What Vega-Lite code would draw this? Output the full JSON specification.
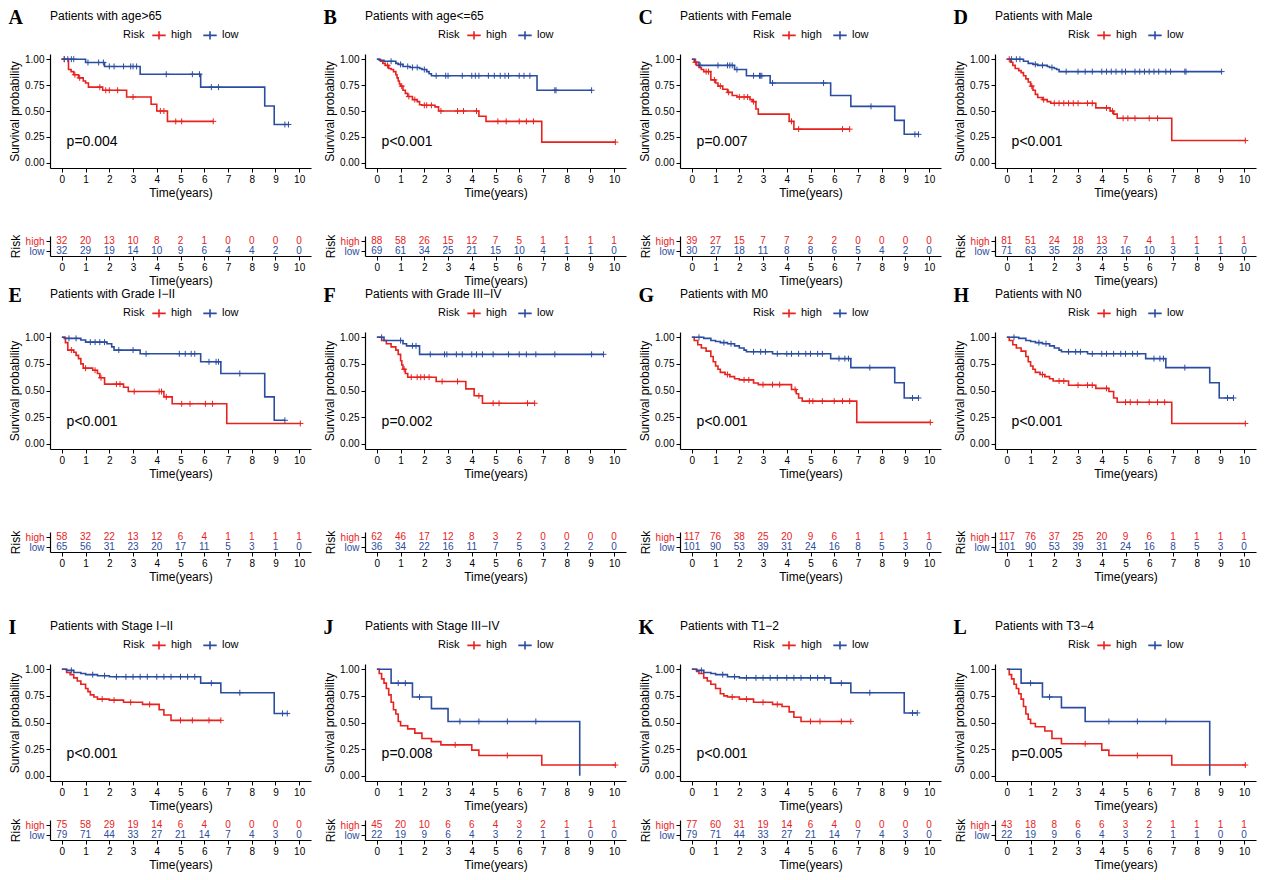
{
"$schema":"https://vega.github.io/schema/vega-lite/v6.json",
"background":"white",
"padding":{"left":8,"top":8,"right":5,"bottom":3},
"config":{"view":{"stroke":null},"font":"Liberation Sans",
"axis":{"grid":false,"domainColor":"black","tickColor":"black","labelColor":"black","titleColor":"black","labelFontSize":10,"titleFontSize":12,"titleFontWeight":"normal","tickSize":4,"domainWidth":1.2,"tickWidth":1,"labelPadding":2,"titlePadding":3,"labelOverlap":false,"labelFlush":false},
"legend":{"orient":"top","direction":"horizontal","titleOrient":"left","labelFontSize":11,"titleFontSize":11,"titleFontWeight":"normal","titlePadding":6,"offset":11,"columnPadding":8,"symbolStrokeWidth":1.6,"layout":{"top":{"anchor":"middle"}}},
"title":{"offset":4,"color":"black"}},
"datasets":{
"pv":[{"p":"A","label":"p=0.004"},{"p":"B","label":"p<0.001"},{"p":"C","label":"p=0.007"},{"p":"D","label":"p<0.001"},{"p":"E","label":"p<0.001"},{"p":"F","label":"p=0.002"},{"p":"G","label":"p<0.001"},{"p":"H","label":"p<0.001"},{"p":"I","label":"p<0.001"},{"p":"J","label":"p=0.008"},{"p":"K","label":"p<0.001"},{"p":"L","label":"p=0.005"}],
"risk":[
{"p":"A","g":"high","t":0,"n":32},{"p":"A","g":"high","t":1,"n":20},{"p":"A","g":"high","t":2,"n":13},{"p":"A","g":"high","t":3,"n":10},{"p":"A","g":"high","t":4,"n":8},{"p":"A","g":"high","t":5,"n":2},{"p":"A","g":"high","t":6,"n":1},{"p":"A","g":"high","t":7,"n":0},{"p":"A","g":"high","t":8,"n":0},{"p":"A","g":"high","t":9,"n":0},{"p":"A","g":"high","t":10,"n":0},
{"p":"A","g":"low","t":0,"n":32},{"p":"A","g":"low","t":1,"n":29},{"p":"A","g":"low","t":2,"n":19},{"p":"A","g":"low","t":3,"n":14},{"p":"A","g":"low","t":4,"n":10},{"p":"A","g":"low","t":5,"n":9},{"p":"A","g":"low","t":6,"n":6},{"p":"A","g":"low","t":7,"n":4},{"p":"A","g":"low","t":8,"n":4},{"p":"A","g":"low","t":9,"n":2},{"p":"A","g":"low","t":10,"n":0},
{"p":"B","g":"high","t":0,"n":88},{"p":"B","g":"high","t":1,"n":58},{"p":"B","g":"high","t":2,"n":26},{"p":"B","g":"high","t":3,"n":15},{"p":"B","g":"high","t":4,"n":12},{"p":"B","g":"high","t":5,"n":7},{"p":"B","g":"high","t":6,"n":5},{"p":"B","g":"high","t":7,"n":1},{"p":"B","g":"high","t":8,"n":1},{"p":"B","g":"high","t":9,"n":1},{"p":"B","g":"high","t":10,"n":1},
{"p":"B","g":"low","t":0,"n":69},{"p":"B","g":"low","t":1,"n":61},{"p":"B","g":"low","t":2,"n":34},{"p":"B","g":"low","t":3,"n":25},{"p":"B","g":"low","t":4,"n":21},{"p":"B","g":"low","t":5,"n":15},{"p":"B","g":"low","t":6,"n":10},{"p":"B","g":"low","t":7,"n":4},{"p":"B","g":"low","t":8,"n":1},{"p":"B","g":"low","t":9,"n":1},{"p":"B","g":"low","t":10,"n":0},
{"p":"C","g":"high","t":0,"n":39},{"p":"C","g":"high","t":1,"n":27},{"p":"C","g":"high","t":2,"n":15},{"p":"C","g":"high","t":3,"n":7},{"p":"C","g":"high","t":4,"n":7},{"p":"C","g":"high","t":5,"n":2},{"p":"C","g":"high","t":6,"n":2},{"p":"C","g":"high","t":7,"n":0},{"p":"C","g":"high","t":8,"n":0},{"p":"C","g":"high","t":9,"n":0},{"p":"C","g":"high","t":10,"n":0},
{"p":"C","g":"low","t":0,"n":30},{"p":"C","g":"low","t":1,"n":27},{"p":"C","g":"low","t":2,"n":18},{"p":"C","g":"low","t":3,"n":11},{"p":"C","g":"low","t":4,"n":8},{"p":"C","g":"low","t":5,"n":8},{"p":"C","g":"low","t":6,"n":6},{"p":"C","g":"low","t":7,"n":5},{"p":"C","g":"low","t":8,"n":4},{"p":"C","g":"low","t":9,"n":2},{"p":"C","g":"low","t":10,"n":0},
{"p":"D","g":"high","t":0,"n":81},{"p":"D","g":"high","t":1,"n":51},{"p":"D","g":"high","t":2,"n":24},{"p":"D","g":"high","t":3,"n":18},{"p":"D","g":"high","t":4,"n":13},{"p":"D","g":"high","t":5,"n":7},{"p":"D","g":"high","t":6,"n":4},{"p":"D","g":"high","t":7,"n":1},{"p":"D","g":"high","t":8,"n":1},{"p":"D","g":"high","t":9,"n":1},{"p":"D","g":"high","t":10,"n":1},
{"p":"D","g":"low","t":0,"n":71},{"p":"D","g":"low","t":1,"n":63},{"p":"D","g":"low","t":2,"n":35},{"p":"D","g":"low","t":3,"n":28},{"p":"D","g":"low","t":4,"n":23},{"p":"D","g":"low","t":5,"n":16},{"p":"D","g":"low","t":6,"n":10},{"p":"D","g":"low","t":7,"n":3},{"p":"D","g":"low","t":8,"n":1},{"p":"D","g":"low","t":9,"n":1},{"p":"D","g":"low","t":10,"n":0},
{"p":"E","g":"high","t":0,"n":58},{"p":"E","g":"high","t":1,"n":32},{"p":"E","g":"high","t":2,"n":22},{"p":"E","g":"high","t":3,"n":13},{"p":"E","g":"high","t":4,"n":12},{"p":"E","g":"high","t":5,"n":6},{"p":"E","g":"high","t":6,"n":4},{"p":"E","g":"high","t":7,"n":1},{"p":"E","g":"high","t":8,"n":1},{"p":"E","g":"high","t":9,"n":1},{"p":"E","g":"high","t":10,"n":1},
{"p":"E","g":"low","t":0,"n":65},{"p":"E","g":"low","t":1,"n":56},{"p":"E","g":"low","t":2,"n":31},{"p":"E","g":"low","t":3,"n":23},{"p":"E","g":"low","t":4,"n":20},{"p":"E","g":"low","t":5,"n":17},{"p":"E","g":"low","t":6,"n":11},{"p":"E","g":"low","t":7,"n":5},{"p":"E","g":"low","t":8,"n":3},{"p":"E","g":"low","t":9,"n":1},{"p":"E","g":"low","t":10,"n":0},
{"p":"F","g":"high","t":0,"n":62},{"p":"F","g":"high","t":1,"n":46},{"p":"F","g":"high","t":2,"n":17},{"p":"F","g":"high","t":3,"n":12},{"p":"F","g":"high","t":4,"n":8},{"p":"F","g":"high","t":5,"n":3},{"p":"F","g":"high","t":6,"n":2},{"p":"F","g":"high","t":7,"n":0},{"p":"F","g":"high","t":8,"n":0},{"p":"F","g":"high","t":9,"n":0},{"p":"F","g":"high","t":10,"n":0},
{"p":"F","g":"low","t":0,"n":36},{"p":"F","g":"low","t":1,"n":34},{"p":"F","g":"low","t":2,"n":22},{"p":"F","g":"low","t":3,"n":16},{"p":"F","g":"low","t":4,"n":11},{"p":"F","g":"low","t":5,"n":7},{"p":"F","g":"low","t":6,"n":5},{"p":"F","g":"low","t":7,"n":3},{"p":"F","g":"low","t":8,"n":2},{"p":"F","g":"low","t":9,"n":2},{"p":"F","g":"low","t":10,"n":0},
{"p":"G","g":"high","t":0,"n":117},{"p":"G","g":"high","t":1,"n":76},{"p":"G","g":"high","t":2,"n":38},{"p":"G","g":"high","t":3,"n":25},{"p":"G","g":"high","t":4,"n":20},{"p":"G","g":"high","t":5,"n":9},{"p":"G","g":"high","t":6,"n":6},{"p":"G","g":"high","t":7,"n":1},{"p":"G","g":"high","t":8,"n":1},{"p":"G","g":"high","t":9,"n":1},{"p":"G","g":"high","t":10,"n":1},
{"p":"G","g":"low","t":0,"n":101},{"p":"G","g":"low","t":1,"n":90},{"p":"G","g":"low","t":2,"n":53},{"p":"G","g":"low","t":3,"n":39},{"p":"G","g":"low","t":4,"n":31},{"p":"G","g":"low","t":5,"n":24},{"p":"G","g":"low","t":6,"n":16},{"p":"G","g":"low","t":7,"n":8},{"p":"G","g":"low","t":8,"n":5},{"p":"G","g":"low","t":9,"n":3},{"p":"G","g":"low","t":10,"n":0},
{"p":"H","g":"high","t":0,"n":117},{"p":"H","g":"high","t":1,"n":76},{"p":"H","g":"high","t":2,"n":37},{"p":"H","g":"high","t":3,"n":25},{"p":"H","g":"high","t":4,"n":20},{"p":"H","g":"high","t":5,"n":9},{"p":"H","g":"high","t":6,"n":6},{"p":"H","g":"high","t":7,"n":1},{"p":"H","g":"high","t":8,"n":1},{"p":"H","g":"high","t":9,"n":1},{"p":"H","g":"high","t":10,"n":1},
{"p":"H","g":"low","t":0,"n":101},{"p":"H","g":"low","t":1,"n":90},{"p":"H","g":"low","t":2,"n":53},{"p":"H","g":"low","t":3,"n":39},{"p":"H","g":"low","t":4,"n":31},{"p":"H","g":"low","t":5,"n":24},{"p":"H","g":"low","t":6,"n":16},{"p":"H","g":"low","t":7,"n":8},{"p":"H","g":"low","t":8,"n":5},{"p":"H","g":"low","t":9,"n":3},{"p":"H","g":"low","t":10,"n":0},
{"p":"I","g":"high","t":0,"n":75},{"p":"I","g":"high","t":1,"n":58},{"p":"I","g":"high","t":2,"n":29},{"p":"I","g":"high","t":3,"n":19},{"p":"I","g":"high","t":4,"n":14},{"p":"I","g":"high","t":5,"n":6},{"p":"I","g":"high","t":6,"n":4},{"p":"I","g":"high","t":7,"n":0},{"p":"I","g":"high","t":8,"n":0},{"p":"I","g":"high","t":9,"n":0},{"p":"I","g":"high","t":10,"n":0},
{"p":"I","g":"low","t":0,"n":79},{"p":"I","g":"low","t":1,"n":71},{"p":"I","g":"low","t":2,"n":44},{"p":"I","g":"low","t":3,"n":33},{"p":"I","g":"low","t":4,"n":27},{"p":"I","g":"low","t":5,"n":21},{"p":"I","g":"low","t":6,"n":14},{"p":"I","g":"low","t":7,"n":7},{"p":"I","g":"low","t":8,"n":4},{"p":"I","g":"low","t":9,"n":3},{"p":"I","g":"low","t":10,"n":0},
{"p":"J","g":"high","t":0,"n":45},{"p":"J","g":"high","t":1,"n":20},{"p":"J","g":"high","t":2,"n":10},{"p":"J","g":"high","t":3,"n":6},{"p":"J","g":"high","t":4,"n":6},{"p":"J","g":"high","t":5,"n":4},{"p":"J","g":"high","t":6,"n":3},{"p":"J","g":"high","t":7,"n":2},{"p":"J","g":"high","t":8,"n":1},{"p":"J","g":"high","t":9,"n":1},{"p":"J","g":"high","t":10,"n":1},
{"p":"J","g":"low","t":0,"n":22},{"p":"J","g":"low","t":1,"n":19},{"p":"J","g":"low","t":2,"n":9},{"p":"J","g":"low","t":3,"n":6},{"p":"J","g":"low","t":4,"n":4},{"p":"J","g":"low","t":5,"n":3},{"p":"J","g":"low","t":6,"n":2},{"p":"J","g":"low","t":7,"n":1},{"p":"J","g":"low","t":8,"n":1},{"p":"J","g":"low","t":9,"n":0},{"p":"J","g":"low","t":10,"n":0},
{"p":"K","g":"high","t":0,"n":77},{"p":"K","g":"high","t":1,"n":60},{"p":"K","g":"high","t":2,"n":31},{"p":"K","g":"high","t":3,"n":19},{"p":"K","g":"high","t":4,"n":14},{"p":"K","g":"high","t":5,"n":6},{"p":"K","g":"high","t":6,"n":4},{"p":"K","g":"high","t":7,"n":0},{"p":"K","g":"high","t":8,"n":0},{"p":"K","g":"high","t":9,"n":0},{"p":"K","g":"high","t":10,"n":0},
{"p":"K","g":"low","t":0,"n":79},{"p":"K","g":"low","t":1,"n":71},{"p":"K","g":"low","t":2,"n":44},{"p":"K","g":"low","t":3,"n":33},{"p":"K","g":"low","t":4,"n":27},{"p":"K","g":"low","t":5,"n":21},{"p":"K","g":"low","t":6,"n":14},{"p":"K","g":"low","t":7,"n":7},{"p":"K","g":"low","t":8,"n":4},{"p":"K","g":"low","t":9,"n":3},{"p":"K","g":"low","t":10,"n":0},
{"p":"L","g":"high","t":0,"n":43},{"p":"L","g":"high","t":1,"n":18},{"p":"L","g":"high","t":2,"n":8},{"p":"L","g":"high","t":3,"n":6},{"p":"L","g":"high","t":4,"n":6},{"p":"L","g":"high","t":5,"n":3},{"p":"L","g":"high","t":6,"n":2},{"p":"L","g":"high","t":7,"n":1},{"p":"L","g":"high","t":8,"n":1},{"p":"L","g":"high","t":9,"n":1},{"p":"L","g":"high","t":10,"n":1},
{"p":"L","g":"low","t":0,"n":22},{"p":"L","g":"low","t":1,"n":19},{"p":"L","g":"low","t":2,"n":9},{"p":"L","g":"low","t":3,"n":6},{"p":"L","g":"low","t":4,"n":4},{"p":"L","g":"low","t":5,"n":3},{"p":"L","g":"low","t":6,"n":2},{"p":"L","g":"low","t":7,"n":1},{"p":"L","g":"low","t":8,"n":1},{"p":"L","g":"low","t":9,"n":0},{"p":"L","g":"low","t":10,"n":0}
],
"km":[
{"p":"A","g":"high","t":0,"s":1,"c":0},{"p":"A","g":"high","t":0.1,"s":1,"c":1},{"p":"A","g":"high","t":0.28,"s":0.9,"c":0},{"p":"A","g":"high","t":0.39,"s":0.88,"c":0},{"p":"A","g":"high","t":0.5,"s":0.85,"c":0},{"p":"A","g":"high","t":0.55,"s":0.85,"c":1},{"p":"A","g":"high","t":0.7,"s":0.82,"c":0},{"p":"A","g":"high","t":0.75,"s":0.82,"c":1},{"p":"A","g":"high","t":0.9,"s":0.79,"c":0},{"p":"A","g":"high","t":1.0,"s":0.77,"c":0},{"p":"A","g":"high","t":1.12,"s":0.73,"c":0},{"p":"A","g":"high","t":1.6,"s":0.73,"c":1},{"p":"A","g":"high","t":1.72,"s":0.7,"c":0},{"p":"A","g":"high","t":1.85,"s":0.7,"c":1},{"p":"A","g":"high","t":2.0,"s":0.7,"c":1},{"p":"A","g":"high","t":2.35,"s":0.7,"c":1},{"p":"A","g":"high","t":2.73,"s":0.635,"c":0},{"p":"A","g":"high","t":3.0,"s":0.635,"c":1},{"p":"A","g":"high","t":3.76,"s":0.565,"c":0},{"p":"A","g":"high","t":4.0,"s":0.5,"c":0},{"p":"A","g":"high","t":4.15,"s":0.5,"c":1},{"p":"A","g":"high","t":4.3,"s":0.5,"c":1},{"p":"A","g":"high","t":4.45,"s":0.4,"c":0},{"p":"A","g":"high","t":4.8,"s":0.4,"c":1},{"p":"A","g":"high","t":5.05,"s":0.4,"c":1},{"p":"A","g":"high","t":6.38,"s":0.4,"c":1},
{"p":"A","g":"low","t":0,"s":1,"c":0},{"p":"A","g":"low","t":0.1,"s":1,"c":1},{"p":"A","g":"low","t":0.25,"s":1,"c":1},{"p":"A","g":"low","t":0.4,"s":1,"c":1},{"p":"A","g":"low","t":0.5,"s":1,"c":1},{"p":"A","g":"low","t":1.0,"s":0.968,"c":0},{"p":"A","g":"low","t":1.1,"s":0.968,"c":1},{"p":"A","g":"low","t":1.55,"s":0.968,"c":1},{"p":"A","g":"low","t":1.75,"s":0.968,"c":1},{"p":"A","g":"low","t":1.8,"s":0.93,"c":0},{"p":"A","g":"low","t":2.0,"s":0.93,"c":1},{"p":"A","g":"low","t":2.2,"s":0.93,"c":1},{"p":"A","g":"low","t":2.6,"s":0.93,"c":1},{"p":"A","g":"low","t":2.9,"s":0.93,"c":1},{"p":"A","g":"low","t":3.0,"s":0.93,"c":1},{"p":"A","g":"low","t":3.15,"s":0.93,"c":1},{"p":"A","g":"low","t":3.3,"s":0.855,"c":0},{"p":"A","g":"low","t":4.4,"s":0.855,"c":1},{"p":"A","g":"low","t":5.5,"s":0.855,"c":1},{"p":"A","g":"low","t":5.8,"s":0.855,"c":1},{"p":"A","g":"low","t":5.85,"s":0.73,"c":0},{"p":"A","g":"low","t":6.3,"s":0.73,"c":1},{"p":"A","g":"low","t":6.6,"s":0.73,"c":1},{"p":"A","g":"low","t":8.55,"s":0.548,"c":0},{"p":"A","g":"low","t":8.95,"s":0.37,"c":0},{"p":"A","g":"low","t":9.4,"s":0.37,"c":1},{"p":"A","g":"low","t":9.55,"s":0.37,"c":1},
{"p":"B","g":"high","t":0,"s":1,"c":0},{"p":"B","g":"high","t":0.15,"s":0.98,"c":0},{"p":"B","g":"high","t":0.25,"s":0.96,"c":0},{"p":"B","g":"high","t":0.35,"s":0.94,"c":0},{"p":"B","g":"high","t":0.45,"s":0.94,"c":1},{"p":"B","g":"high","t":0.5,"s":0.91,"c":0},{"p":"B","g":"high","t":0.6,"s":0.9,"c":0},{"p":"B","g":"high","t":0.7,"s":0.88,"c":0},{"p":"B","g":"high","t":0.8,"s":0.85,"c":0},{"p":"B","g":"high","t":0.85,"s":0.82,"c":0},{"p":"B","g":"high","t":0.9,"s":0.79,"c":0},{"p":"B","g":"high","t":0.95,"s":0.76,"c":0},{"p":"B","g":"high","t":1.0,"s":0.74,"c":0},{"p":"B","g":"high","t":1.05,"s":0.74,"c":1},{"p":"B","g":"high","t":1.1,"s":0.7,"c":0},{"p":"B","g":"high","t":1.2,"s":0.67,"c":0},{"p":"B","g":"high","t":1.3,"s":0.64,"c":0},{"p":"B","g":"high","t":1.35,"s":0.64,"c":1},{"p":"B","g":"high","t":1.5,"s":0.61,"c":0},{"p":"B","g":"high","t":1.6,"s":0.61,"c":1},{"p":"B","g":"high","t":1.7,"s":0.59,"c":0},{"p":"B","g":"high","t":1.8,"s":0.56,"c":0},{"p":"B","g":"high","t":1.9,"s":0.555,"c":0},{"p":"B","g":"high","t":2.0,"s":0.555,"c":1},{"p":"B","g":"high","t":2.1,"s":0.555,"c":1},{"p":"B","g":"high","t":2.3,"s":0.555,"c":1},{"p":"B","g":"high","t":2.45,"s":0.54,"c":0},{"p":"B","g":"high","t":2.6,"s":0.5,"c":0},{"p":"B","g":"high","t":2.7,"s":0.5,"c":1},{"p":"B","g":"high","t":3.4,"s":0.5,"c":1},{"p":"B","g":"high","t":3.65,"s":0.5,"c":1},{"p":"B","g":"high","t":4.2,"s":0.5,"c":1},{"p":"B","g":"high","t":4.3,"s":0.45,"c":0},{"p":"B","g":"high","t":4.6,"s":0.4,"c":0},{"p":"B","g":"high","t":5.1,"s":0.4,"c":1},{"p":"B","g":"high","t":5.45,"s":0.4,"c":1},{"p":"B","g":"high","t":6.0,"s":0.4,"c":1},{"p":"B","g":"high","t":6.3,"s":0.4,"c":1},{"p":"B","g":"high","t":6.6,"s":0.4,"c":1},{"p":"B","g":"high","t":6.95,"s":0.2,"c":0},{"p":"B","g":"high","t":10.05,"s":0.2,"c":1},
{"p":"B","g":"low","t":0,"s":1,"c":0},{"p":"B","g":"low","t":0.1,"s":0.99,"c":0},{"p":"B","g":"low","t":0.3,"s":0.98,"c":0},{"p":"B","g":"low","t":0.6,"s":0.98,"c":1},{"p":"B","g":"low","t":0.8,"s":0.96,"c":0},{"p":"B","g":"low","t":0.9,"s":0.95,"c":0},{"p":"B","g":"low","t":1.0,"s":0.95,"c":1},{"p":"B","g":"low","t":1.1,"s":0.93,"c":0},{"p":"B","g":"low","t":1.3,"s":0.93,"c":1},{"p":"B","g":"low","t":1.4,"s":0.92,"c":0},{"p":"B","g":"low","t":1.5,"s":0.92,"c":1},{"p":"B","g":"low","t":1.7,"s":0.92,"c":1},{"p":"B","g":"low","t":1.8,"s":0.91,"c":0},{"p":"B","g":"low","t":1.9,"s":0.9,"c":0},{"p":"B","g":"low","t":2.0,"s":0.9,"c":1},{"p":"B","g":"low","t":2.1,"s":0.88,"c":0},{"p":"B","g":"low","t":2.2,"s":0.86,"c":0},{"p":"B","g":"low","t":2.3,"s":0.84,"c":0},{"p":"B","g":"low","t":2.5,"s":0.84,"c":1},{"p":"B","g":"low","t":2.9,"s":0.84,"c":1},{"p":"B","g":"low","t":3.0,"s":0.84,"c":1},{"p":"B","g":"low","t":3.6,"s":0.84,"c":1},{"p":"B","g":"low","t":4.0,"s":0.84,"c":1},{"p":"B","g":"low","t":4.15,"s":0.84,"c":1},{"p":"B","g":"low","t":4.3,"s":0.84,"c":1},{"p":"B","g":"low","t":4.7,"s":0.84,"c":1},{"p":"B","g":"low","t":4.95,"s":0.84,"c":1},{"p":"B","g":"low","t":5.2,"s":0.84,"c":1},{"p":"B","g":"low","t":5.4,"s":0.84,"c":1},{"p":"B","g":"low","t":5.55,"s":0.84,"c":1},{"p":"B","g":"low","t":6.0,"s":0.84,"c":1},{"p":"B","g":"low","t":6.2,"s":0.84,"c":1},{"p":"B","g":"low","t":6.45,"s":0.84,"c":1},{"p":"B","g":"low","t":6.75,"s":0.7,"c":0},{"p":"B","g":"low","t":7.5,"s":0.7,"c":1},{"p":"B","g":"low","t":7.55,"s":0.7,"c":1},{"p":"B","g":"low","t":9.05,"s":0.7,"c":1},
{"p":"C","g":"high","t":0,"s":1,"c":0},{"p":"C","g":"high","t":0.1,"s":0.97,"c":0},{"p":"C","g":"high","t":0.15,"s":0.97,"c":1},{"p":"C","g":"high","t":0.2,"s":0.94,"c":0},{"p":"C","g":"high","t":0.3,"s":0.92,"c":0},{"p":"C","g":"high","t":0.4,"s":0.9,"c":0},{"p":"C","g":"high","t":0.5,"s":0.88,"c":0},{"p":"C","g":"high","t":0.6,"s":0.88,"c":1},{"p":"C","g":"high","t":0.7,"s":0.88,"c":1},{"p":"C","g":"high","t":0.8,"s":0.8,"c":0},{"p":"C","g":"high","t":0.95,"s":0.8,"c":1},{"p":"C","g":"high","t":1.0,"s":0.77,"c":0},{"p":"C","g":"high","t":1.1,"s":0.74,"c":0},{"p":"C","g":"high","t":1.2,"s":0.74,"c":1},{"p":"C","g":"high","t":1.3,"s":0.71,"c":0},{"p":"C","g":"high","t":1.5,"s":0.68,"c":0},{"p":"C","g":"high","t":1.55,"s":0.68,"c":1},{"p":"C","g":"high","t":1.7,"s":0.65,"c":0},{"p":"C","g":"high","t":1.9,"s":0.635,"c":0},{"p":"C","g":"high","t":2.0,"s":0.635,"c":1},{"p":"C","g":"high","t":2.2,"s":0.635,"c":1},{"p":"C","g":"high","t":2.35,"s":0.635,"c":1},{"p":"C","g":"high","t":2.45,"s":0.61,"c":0},{"p":"C","g":"high","t":2.55,"s":0.59,"c":0},{"p":"C","g":"high","t":2.6,"s":0.59,"c":1},{"p":"C","g":"high","t":2.7,"s":0.52,"c":0},{"p":"C","g":"high","t":2.8,"s":0.47,"c":0},{"p":"C","g":"high","t":4.1,"s":0.4,"c":0},{"p":"C","g":"high","t":4.2,"s":0.4,"c":1},{"p":"C","g":"high","t":4.3,"s":0.325,"c":0},{"p":"C","g":"high","t":4.5,"s":0.325,"c":1},{"p":"C","g":"high","t":6.35,"s":0.325,"c":1},{"p":"C","g":"high","t":6.65,"s":0.325,"c":1},
{"p":"C","g":"low","t":0,"s":1,"c":0},{"p":"C","g":"low","t":0.15,"s":0.97,"c":0},{"p":"C","g":"low","t":0.3,"s":0.94,"c":0},{"p":"C","g":"low","t":0.35,"s":0.94,"c":1},{"p":"C","g":"low","t":1.1,"s":0.94,"c":1},{"p":"C","g":"low","t":1.5,"s":0.94,"c":1},{"p":"C","g":"low","t":1.6,"s":0.94,"c":1},{"p":"C","g":"low","t":1.7,"s":0.94,"c":1},{"p":"C","g":"low","t":1.8,"s":0.9,"c":0},{"p":"C","g":"low","t":1.9,"s":0.9,"c":1},{"p":"C","g":"low","t":2.3,"s":0.84,"c":0},{"p":"C","g":"low","t":2.6,"s":0.84,"c":1},{"p":"C","g":"low","t":2.85,"s":0.84,"c":1},{"p":"C","g":"low","t":2.9,"s":0.84,"c":1},{"p":"C","g":"low","t":2.95,"s":0.84,"c":1},{"p":"C","g":"low","t":3.3,"s":0.77,"c":0},{"p":"C","g":"low","t":3.4,"s":0.77,"c":1},{"p":"C","g":"low","t":5.55,"s":0.77,"c":1},{"p":"C","g":"low","t":5.85,"s":0.65,"c":0},{"p":"C","g":"low","t":6.7,"s":0.545,"c":0},{"p":"C","g":"low","t":7.55,"s":0.545,"c":1},{"p":"C","g":"low","t":8.55,"s":0.41,"c":0},{"p":"C","g":"low","t":8.95,"s":0.275,"c":0},{"p":"C","g":"low","t":9.4,"s":0.275,"c":1},{"p":"C","g":"low","t":9.55,"s":0.275,"c":1},
{"p":"D","g":"high","t":0,"s":1,"c":0},{"p":"D","g":"high","t":0.1,"s":1,"c":1},{"p":"D","g":"high","t":0.15,"s":0.97,"c":0},{"p":"D","g":"high","t":0.25,"s":0.94,"c":0},{"p":"D","g":"high","t":0.35,"s":0.91,"c":0},{"p":"D","g":"high","t":0.5,"s":0.89,"c":0},{"p":"D","g":"high","t":0.6,"s":0.87,"c":0},{"p":"D","g":"high","t":0.7,"s":0.84,"c":0},{"p":"D","g":"high","t":0.8,"s":0.81,"c":0},{"p":"D","g":"high","t":0.9,"s":0.78,"c":0},{"p":"D","g":"high","t":1.0,"s":0.74,"c":0},{"p":"D","g":"high","t":1.05,"s":0.74,"c":1},{"p":"D","g":"high","t":1.1,"s":0.7,"c":0},{"p":"D","g":"high","t":1.2,"s":0.66,"c":0},{"p":"D","g":"high","t":1.3,"s":0.63,"c":0},{"p":"D","g":"high","t":1.5,"s":0.61,"c":0},{"p":"D","g":"high","t":1.55,"s":0.61,"c":1},{"p":"D","g":"high","t":1.7,"s":0.59,"c":0},{"p":"D","g":"high","t":1.85,"s":0.575,"c":0},{"p":"D","g":"high","t":2.0,"s":0.575,"c":1},{"p":"D","g":"high","t":2.2,"s":0.575,"c":1},{"p":"D","g":"high","t":2.4,"s":0.575,"c":1},{"p":"D","g":"high","t":2.6,"s":0.575,"c":1},{"p":"D","g":"high","t":2.8,"s":0.575,"c":1},{"p":"D","g":"high","t":3.0,"s":0.575,"c":1},{"p":"D","g":"high","t":3.4,"s":0.575,"c":1},{"p":"D","g":"high","t":3.6,"s":0.575,"c":1},{"p":"D","g":"high","t":3.75,"s":0.53,"c":0},{"p":"D","g":"high","t":4.2,"s":0.53,"c":1},{"p":"D","g":"high","t":4.35,"s":0.5,"c":0},{"p":"D","g":"high","t":4.45,"s":0.5,"c":1},{"p":"D","g":"high","t":4.5,"s":0.47,"c":0},{"p":"D","g":"high","t":4.65,"s":0.43,"c":0},{"p":"D","g":"high","t":4.9,"s":0.43,"c":1},{"p":"D","g":"high","t":5.1,"s":0.43,"c":1},{"p":"D","g":"high","t":5.4,"s":0.43,"c":1},{"p":"D","g":"high","t":6.0,"s":0.43,"c":1},{"p":"D","g":"high","t":6.35,"s":0.43,"c":1},{"p":"D","g":"high","t":6.95,"s":0.215,"c":0},{"p":"D","g":"high","t":10.05,"s":0.215,"c":1},
{"p":"D","g":"low","t":0,"s":1,"c":0},{"p":"D","g":"low","t":0.2,"s":1,"c":1},{"p":"D","g":"low","t":0.4,"s":1,"c":1},{"p":"D","g":"low","t":0.55,"s":1,"c":1},{"p":"D","g":"low","t":0.7,"s":0.98,"c":0},{"p":"D","g":"low","t":0.9,"s":0.96,"c":0},{"p":"D","g":"low","t":1.1,"s":0.95,"c":0},{"p":"D","g":"low","t":1.2,"s":0.95,"c":1},{"p":"D","g":"low","t":1.3,"s":0.94,"c":0},{"p":"D","g":"low","t":1.5,"s":0.94,"c":1},{"p":"D","g":"low","t":1.7,"s":0.93,"c":0},{"p":"D","g":"low","t":1.8,"s":0.92,"c":0},{"p":"D","g":"low","t":1.9,"s":0.92,"c":1},{"p":"D","g":"low","t":2.0,"s":0.91,"c":0},{"p":"D","g":"low","t":2.1,"s":0.9,"c":0},{"p":"D","g":"low","t":2.2,"s":0.88,"c":0},{"p":"D","g":"low","t":2.5,"s":0.88,"c":1},{"p":"D","g":"low","t":3.0,"s":0.88,"c":1},{"p":"D","g":"low","t":3.3,"s":0.88,"c":1},{"p":"D","g":"low","t":3.6,"s":0.88,"c":1},{"p":"D","g":"low","t":4.0,"s":0.88,"c":1},{"p":"D","g":"low","t":4.2,"s":0.88,"c":1},{"p":"D","g":"low","t":4.4,"s":0.88,"c":1},{"p":"D","g":"low","t":4.6,"s":0.88,"c":1},{"p":"D","g":"low","t":4.85,"s":0.88,"c":1},{"p":"D","g":"low","t":5.0,"s":0.88,"c":1},{"p":"D","g":"low","t":5.4,"s":0.88,"c":1},{"p":"D","g":"low","t":5.6,"s":0.88,"c":1},{"p":"D","g":"low","t":5.8,"s":0.88,"c":1},{"p":"D","g":"low","t":6.0,"s":0.88,"c":1},{"p":"D","g":"low","t":6.2,"s":0.88,"c":1},{"p":"D","g":"low","t":6.4,"s":0.88,"c":1},{"p":"D","g":"low","t":6.7,"s":0.88,"c":1},{"p":"D","g":"low","t":6.9,"s":0.88,"c":1},{"p":"D","g":"low","t":7.5,"s":0.88,"c":1},{"p":"D","g":"low","t":7.55,"s":0.88,"c":1},{"p":"D","g":"low","t":9.05,"s":0.88,"c":1},
{"p":"E","g":"high","t":0,"s":1,"c":0},{"p":"E","g":"high","t":0.15,"s":0.95,"c":0},{"p":"E","g":"high","t":0.25,"s":0.88,"c":0},{"p":"E","g":"high","t":0.4,"s":0.88,"c":1},{"p":"E","g":"high","t":0.5,"s":0.86,"c":0},{"p":"E","g":"high","t":0.6,"s":0.83,"c":0},{"p":"E","g":"high","t":0.7,"s":0.8,"c":0},{"p":"E","g":"high","t":0.8,"s":0.75,"c":0},{"p":"E","g":"high","t":0.9,"s":0.71,"c":0},{"p":"E","g":"high","t":1.0,"s":0.71,"c":1},{"p":"E","g":"high","t":1.3,"s":0.69,"c":0},{"p":"E","g":"high","t":1.4,"s":0.69,"c":1},{"p":"E","g":"high","t":1.5,"s":0.66,"c":0},{"p":"E","g":"high","t":1.6,"s":0.62,"c":0},{"p":"E","g":"high","t":1.65,"s":0.62,"c":1},{"p":"E","g":"high","t":1.8,"s":0.56,"c":0},{"p":"E","g":"high","t":2.3,"s":0.56,"c":1},{"p":"E","g":"high","t":2.45,"s":0.56,"c":1},{"p":"E","g":"high","t":2.6,"s":0.53,"c":0},{"p":"E","g":"high","t":2.8,"s":0.49,"c":0},{"p":"E","g":"high","t":3.05,"s":0.49,"c":1},{"p":"E","g":"high","t":4.1,"s":0.49,"c":1},{"p":"E","g":"high","t":4.2,"s":0.49,"c":1},{"p":"E","g":"high","t":4.3,"s":0.44,"c":0},{"p":"E","g":"high","t":4.4,"s":0.44,"c":1},{"p":"E","g":"high","t":4.65,"s":0.375,"c":0},{"p":"E","g":"high","t":5.05,"s":0.375,"c":1},{"p":"E","g":"high","t":5.4,"s":0.375,"c":1},{"p":"E","g":"high","t":6.05,"s":0.375,"c":1},{"p":"E","g":"high","t":6.35,"s":0.375,"c":1},{"p":"E","g":"high","t":6.95,"s":0.19,"c":0},{"p":"E","g":"high","t":10.05,"s":0.19,"c":1},
{"p":"E","g":"low","t":0,"s":1,"c":0},{"p":"E","g":"low","t":0.1,"s":0.99,"c":0},{"p":"E","g":"low","t":0.3,"s":0.99,"c":1},{"p":"E","g":"low","t":0.6,"s":0.99,"c":1},{"p":"E","g":"low","t":0.8,"s":0.975,"c":0},{"p":"E","g":"low","t":1.0,"s":0.955,"c":0},{"p":"E","g":"low","t":1.2,"s":0.955,"c":1},{"p":"E","g":"low","t":1.4,"s":0.955,"c":1},{"p":"E","g":"low","t":1.6,"s":0.955,"c":1},{"p":"E","g":"low","t":1.8,"s":0.955,"c":1},{"p":"E","g":"low","t":1.9,"s":0.94,"c":0},{"p":"E","g":"low","t":2.1,"s":0.91,"c":0},{"p":"E","g":"low","t":2.2,"s":0.88,"c":0},{"p":"E","g":"low","t":2.4,"s":0.88,"c":1},{"p":"E","g":"low","t":3.0,"s":0.88,"c":1},{"p":"E","g":"low","t":3.3,"s":0.845,"c":0},{"p":"E","g":"low","t":3.55,"s":0.845,"c":1},{"p":"E","g":"low","t":4.95,"s":0.845,"c":1},{"p":"E","g":"low","t":5.2,"s":0.845,"c":1},{"p":"E","g":"low","t":5.45,"s":0.845,"c":1},{"p":"E","g":"low","t":5.6,"s":0.845,"c":1},{"p":"E","g":"low","t":5.85,"s":0.77,"c":0},{"p":"E","g":"low","t":6.2,"s":0.77,"c":1},{"p":"E","g":"low","t":6.5,"s":0.77,"c":1},{"p":"E","g":"low","t":6.6,"s":0.77,"c":1},{"p":"E","g":"low","t":6.7,"s":0.66,"c":0},{"p":"E","g":"low","t":7.5,"s":0.66,"c":1},{"p":"E","g":"low","t":8.55,"s":0.44,"c":0},{"p":"E","g":"low","t":8.95,"s":0.22,"c":0},{"p":"E","g":"low","t":9.4,"s":0.22,"c":1},
{"p":"F","g":"high","t":0,"s":1,"c":0},{"p":"F","g":"high","t":0.2,"s":0.97,"c":0},{"p":"F","g":"high","t":0.4,"s":0.94,"c":0},{"p":"F","g":"high","t":0.6,"s":0.91,"c":0},{"p":"F","g":"high","t":0.8,"s":0.88,"c":0},{"p":"F","g":"high","t":0.9,"s":0.84,"c":0},{"p":"F","g":"high","t":1.0,"s":0.78,"c":0},{"p":"F","g":"high","t":1.05,"s":0.74,"c":0},{"p":"F","g":"high","t":1.1,"s":0.7,"c":0},{"p":"F","g":"high","t":1.15,"s":0.7,"c":1},{"p":"F","g":"high","t":1.2,"s":0.66,"c":0},{"p":"F","g":"high","t":1.3,"s":0.625,"c":0},{"p":"F","g":"high","t":1.45,"s":0.625,"c":1},{"p":"F","g":"high","t":1.7,"s":0.625,"c":1},{"p":"F","g":"high","t":1.85,"s":0.625,"c":1},{"p":"F","g":"high","t":2.0,"s":0.625,"c":1},{"p":"F","g":"high","t":2.2,"s":0.625,"c":1},{"p":"F","g":"high","t":2.5,"s":0.585,"c":0},{"p":"F","g":"high","t":2.75,"s":0.585,"c":1},{"p":"F","g":"high","t":3.4,"s":0.585,"c":1},{"p":"F","g":"high","t":3.75,"s":0.515,"c":0},{"p":"F","g":"high","t":4.1,"s":0.45,"c":0},{"p":"F","g":"high","t":4.3,"s":0.45,"c":1},{"p":"F","g":"high","t":4.45,"s":0.38,"c":0},{"p":"F","g":"high","t":4.9,"s":0.38,"c":1},{"p":"F","g":"high","t":5.15,"s":0.38,"c":1},{"p":"F","g":"high","t":6.35,"s":0.38,"c":1},{"p":"F","g":"high","t":6.65,"s":0.38,"c":1},
{"p":"F","g":"low","t":0,"s":1,"c":0},{"p":"F","g":"low","t":0.2,"s":1,"c":1},{"p":"F","g":"low","t":0.3,"s":0.97,"c":0},{"p":"F","g":"low","t":1.0,"s":0.97,"c":1},{"p":"F","g":"low","t":1.1,"s":0.94,"c":0},{"p":"F","g":"low","t":1.25,"s":0.92,"c":0},{"p":"F","g":"low","t":1.5,"s":0.92,"c":1},{"p":"F","g":"low","t":1.65,"s":0.92,"c":1},{"p":"F","g":"low","t":1.8,"s":0.84,"c":0},{"p":"F","g":"low","t":2.25,"s":0.84,"c":1},{"p":"F","g":"low","t":2.85,"s":0.84,"c":1},{"p":"F","g":"low","t":2.95,"s":0.84,"c":1},{"p":"F","g":"low","t":3.35,"s":0.84,"c":1},{"p":"F","g":"low","t":3.6,"s":0.84,"c":1},{"p":"F","g":"low","t":4.0,"s":0.84,"c":1},{"p":"F","g":"low","t":4.2,"s":0.84,"c":1},{"p":"F","g":"low","t":4.45,"s":0.84,"c":1},{"p":"F","g":"low","t":4.9,"s":0.84,"c":1},{"p":"F","g":"low","t":5.55,"s":0.84,"c":1},{"p":"F","g":"low","t":6.0,"s":0.84,"c":1},{"p":"F","g":"low","t":6.3,"s":0.84,"c":1},{"p":"F","g":"low","t":6.7,"s":0.84,"c":1},{"p":"F","g":"low","t":7.5,"s":0.84,"c":1},{"p":"F","g":"low","t":9.05,"s":0.84,"c":1},{"p":"F","g":"low","t":9.55,"s":0.84,"c":1},
{"p":"G","g":"high","t":0,"s":1,"c":0},{"p":"G","g":"high","t":0.1,"s":0.97,"c":0},{"p":"G","g":"high","t":0.25,"s":0.93,"c":0},{"p":"G","g":"high","t":0.4,"s":0.9,"c":0},{"p":"G","g":"high","t":0.6,"s":0.87,"c":0},{"p":"G","g":"high","t":0.8,"s":0.82,"c":0},{"p":"G","g":"high","t":0.9,"s":0.77,"c":0},{"p":"G","g":"high","t":1.0,"s":0.73,"c":0},{"p":"G","g":"high","t":1.1,"s":0.7,"c":0},{"p":"G","g":"high","t":1.2,"s":0.67,"c":0},{"p":"G","g":"high","t":1.4,"s":0.65,"c":0},{"p":"G","g":"high","t":1.5,"s":0.65,"c":1},{"p":"G","g":"high","t":1.6,"s":0.63,"c":0},{"p":"G","g":"high","t":1.8,"s":0.61,"c":0},{"p":"G","g":"high","t":2.0,"s":0.6,"c":0},{"p":"G","g":"high","t":2.2,"s":0.6,"c":1},{"p":"G","g":"high","t":2.4,"s":0.6,"c":1},{"p":"G","g":"high","t":2.6,"s":0.57,"c":0},{"p":"G","g":"high","t":2.8,"s":0.555,"c":0},{"p":"G","g":"high","t":3.0,"s":0.555,"c":1},{"p":"G","g":"high","t":3.4,"s":0.555,"c":1},{"p":"G","g":"high","t":3.7,"s":0.555,"c":1},{"p":"G","g":"high","t":4.2,"s":0.51,"c":0},{"p":"G","g":"high","t":4.35,"s":0.51,"c":1},{"p":"G","g":"high","t":4.4,"s":0.47,"c":0},{"p":"G","g":"high","t":4.5,"s":0.43,"c":0},{"p":"G","g":"high","t":4.65,"s":0.4,"c":0},{"p":"G","g":"high","t":4.95,"s":0.4,"c":1},{"p":"G","g":"high","t":5.1,"s":0.4,"c":1},{"p":"G","g":"high","t":5.5,"s":0.4,"c":1},{"p":"G","g":"high","t":6.0,"s":0.4,"c":1},{"p":"G","g":"high","t":6.35,"s":0.4,"c":1},{"p":"G","g":"high","t":6.65,"s":0.4,"c":1},{"p":"G","g":"high","t":6.95,"s":0.2,"c":0},{"p":"G","g":"high","t":10.05,"s":0.2,"c":1},
{"p":"G","g":"low","t":0,"s":1,"c":0},{"p":"G","g":"low","t":0.3,"s":1,"c":1},{"p":"G","g":"low","t":0.5,"s":0.99,"c":0},{"p":"G","g":"low","t":0.8,"s":0.97,"c":0},{"p":"G","g":"low","t":1.0,"s":0.96,"c":0},{"p":"G","g":"low","t":1.2,"s":0.95,"c":0},{"p":"G","g":"low","t":1.35,"s":0.95,"c":1},{"p":"G","g":"low","t":1.5,"s":0.94,"c":0},{"p":"G","g":"low","t":1.65,"s":0.94,"c":1},{"p":"G","g":"low","t":1.8,"s":0.92,"c":0},{"p":"G","g":"low","t":2.0,"s":0.9,"c":0},{"p":"G","g":"low","t":2.2,"s":0.88,"c":0},{"p":"G","g":"low","t":2.3,"s":0.864,"c":0},{"p":"G","g":"low","t":2.6,"s":0.864,"c":1},{"p":"G","g":"low","t":2.9,"s":0.864,"c":1},{"p":"G","g":"low","t":3.1,"s":0.864,"c":1},{"p":"G","g":"low","t":3.4,"s":0.845,"c":0},{"p":"G","g":"low","t":3.6,"s":0.845,"c":1},{"p":"G","g":"low","t":4.0,"s":0.845,"c":1},{"p":"G","g":"low","t":4.2,"s":0.845,"c":1},{"p":"G","g":"low","t":4.5,"s":0.845,"c":1},{"p":"G","g":"low","t":4.8,"s":0.845,"c":1},{"p":"G","g":"low","t":5.0,"s":0.845,"c":1},{"p":"G","g":"low","t":5.3,"s":0.845,"c":1},{"p":"G","g":"low","t":5.5,"s":0.845,"c":1},{"p":"G","g":"low","t":5.85,"s":0.8,"c":0},{"p":"G","g":"low","t":6.2,"s":0.8,"c":1},{"p":"G","g":"low","t":6.45,"s":0.8,"c":1},{"p":"G","g":"low","t":6.6,"s":0.8,"c":1},{"p":"G","g":"low","t":6.7,"s":0.715,"c":0},{"p":"G","g":"low","t":7.5,"s":0.715,"c":1},{"p":"G","g":"low","t":8.55,"s":0.573,"c":0},{"p":"G","g":"low","t":8.95,"s":0.43,"c":0},{"p":"G","g":"low","t":9.3,"s":0.43,"c":1},{"p":"G","g":"low","t":9.55,"s":0.43,"c":1},
{"p":"H","g":"high","t":0,"s":1,"c":0},{"p":"H","g":"high","t":0.1,"s":0.97,"c":0},{"p":"H","g":"high","t":0.25,"s":0.93,"c":0},{"p":"H","g":"high","t":0.4,"s":0.9,"c":0},{"p":"H","g":"high","t":0.6,"s":0.87,"c":0},{"p":"H","g":"high","t":0.8,"s":0.82,"c":0},{"p":"H","g":"high","t":0.9,"s":0.77,"c":0},{"p":"H","g":"high","t":1.0,"s":0.73,"c":0},{"p":"H","g":"high","t":1.1,"s":0.7,"c":0},{"p":"H","g":"high","t":1.2,"s":0.67,"c":0},{"p":"H","g":"high","t":1.4,"s":0.65,"c":0},{"p":"H","g":"high","t":1.5,"s":0.65,"c":1},{"p":"H","g":"high","t":1.6,"s":0.63,"c":0},{"p":"H","g":"high","t":1.8,"s":0.61,"c":0},{"p":"H","g":"high","t":1.95,"s":0.59,"c":0},{"p":"H","g":"high","t":2.2,"s":0.59,"c":1},{"p":"H","g":"high","t":2.4,"s":0.59,"c":1},{"p":"H","g":"high","t":2.6,"s":0.55,"c":0},{"p":"H","g":"high","t":3.0,"s":0.55,"c":1},{"p":"H","g":"high","t":3.4,"s":0.55,"c":1},{"p":"H","g":"high","t":3.6,"s":0.55,"c":1},{"p":"H","g":"high","t":3.75,"s":0.52,"c":0},{"p":"H","g":"high","t":4.2,"s":0.52,"c":1},{"p":"H","g":"high","t":4.3,"s":0.49,"c":0},{"p":"H","g":"high","t":4.5,"s":0.43,"c":0},{"p":"H","g":"high","t":4.65,"s":0.39,"c":0},{"p":"H","g":"high","t":5.0,"s":0.39,"c":1},{"p":"H","g":"high","t":5.2,"s":0.39,"c":1},{"p":"H","g":"high","t":5.5,"s":0.39,"c":1},{"p":"H","g":"high","t":6.0,"s":0.39,"c":1},{"p":"H","g":"high","t":6.35,"s":0.39,"c":1},{"p":"H","g":"high","t":6.65,"s":0.39,"c":1},{"p":"H","g":"high","t":6.95,"s":0.19,"c":0},{"p":"H","g":"high","t":10.05,"s":0.19,"c":1},
{"p":"H","g":"low","t":0,"s":1,"c":0},{"p":"H","g":"low","t":0.3,"s":1,"c":1},{"p":"H","g":"low","t":0.5,"s":0.99,"c":0},{"p":"H","g":"low","t":0.8,"s":0.97,"c":0},{"p":"H","g":"low","t":1.0,"s":0.96,"c":0},{"p":"H","g":"low","t":1.2,"s":0.95,"c":0},{"p":"H","g":"low","t":1.35,"s":0.95,"c":1},{"p":"H","g":"low","t":1.5,"s":0.94,"c":0},{"p":"H","g":"low","t":1.65,"s":0.94,"c":1},{"p":"H","g":"low","t":1.8,"s":0.92,"c":0},{"p":"H","g":"low","t":2.0,"s":0.9,"c":0},{"p":"H","g":"low","t":2.2,"s":0.88,"c":0},{"p":"H","g":"low","t":2.3,"s":0.864,"c":0},{"p":"H","g":"low","t":2.6,"s":0.864,"c":1},{"p":"H","g":"low","t":2.9,"s":0.864,"c":1},{"p":"H","g":"low","t":3.1,"s":0.864,"c":1},{"p":"H","g":"low","t":3.4,"s":0.845,"c":0},{"p":"H","g":"low","t":3.6,"s":0.845,"c":1},{"p":"H","g":"low","t":4.0,"s":0.845,"c":1},{"p":"H","g":"low","t":4.2,"s":0.845,"c":1},{"p":"H","g":"low","t":4.5,"s":0.845,"c":1},{"p":"H","g":"low","t":4.8,"s":0.845,"c":1},{"p":"H","g":"low","t":5.0,"s":0.845,"c":1},{"p":"H","g":"low","t":5.3,"s":0.845,"c":1},{"p":"H","g":"low","t":5.5,"s":0.845,"c":1},{"p":"H","g":"low","t":5.85,"s":0.8,"c":0},{"p":"H","g":"low","t":6.2,"s":0.8,"c":1},{"p":"H","g":"low","t":6.45,"s":0.8,"c":1},{"p":"H","g":"low","t":6.6,"s":0.8,"c":1},{"p":"H","g":"low","t":6.7,"s":0.715,"c":0},{"p":"H","g":"low","t":7.5,"s":0.715,"c":1},{"p":"H","g":"low","t":8.55,"s":0.573,"c":0},{"p":"H","g":"low","t":8.95,"s":0.43,"c":0},{"p":"H","g":"low","t":9.3,"s":0.43,"c":1},{"p":"H","g":"low","t":9.55,"s":0.43,"c":1},
{"p":"I","g":"high","t":0,"s":1,"c":0},{"p":"I","g":"high","t":0.2,"s":0.97,"c":0},{"p":"I","g":"high","t":0.35,"s":0.95,"c":0},{"p":"I","g":"high","t":0.5,"s":0.92,"c":0},{"p":"I","g":"high","t":0.65,"s":0.89,"c":0},{"p":"I","g":"high","t":0.8,"s":0.86,"c":0},{"p":"I","g":"high","t":1.0,"s":0.82,"c":0},{"p":"I","g":"high","t":1.1,"s":0.79,"c":0},{"p":"I","g":"high","t":1.2,"s":0.76,"c":0},{"p":"I","g":"high","t":1.35,"s":0.74,"c":0},{"p":"I","g":"high","t":1.5,"s":0.72,"c":0},{"p":"I","g":"high","t":1.7,"s":0.72,"c":1},{"p":"I","g":"high","t":2.0,"s":0.71,"c":0},{"p":"I","g":"high","t":2.2,"s":0.71,"c":1},{"p":"I","g":"high","t":2.6,"s":0.69,"c":0},{"p":"I","g":"high","t":2.9,"s":0.69,"c":1},{"p":"I","g":"high","t":3.4,"s":0.67,"c":0},{"p":"I","g":"high","t":3.7,"s":0.67,"c":1},{"p":"I","g":"high","t":4.1,"s":0.62,"c":0},{"p":"I","g":"high","t":4.3,"s":0.57,"c":0},{"p":"I","g":"high","t":4.6,"s":0.52,"c":0},{"p":"I","g":"high","t":5.0,"s":0.52,"c":1},{"p":"I","g":"high","t":5.5,"s":0.52,"c":1},{"p":"I","g":"high","t":6.2,"s":0.52,"c":1},{"p":"I","g":"high","t":6.7,"s":0.52,"c":1},
{"p":"I","g":"low","t":0,"s":1,"c":0},{"p":"I","g":"low","t":0.2,"s":0.99,"c":0},{"p":"I","g":"low","t":0.4,"s":0.99,"c":1},{"p":"I","g":"low","t":0.5,"s":0.97,"c":0},{"p":"I","g":"low","t":0.8,"s":0.96,"c":0},{"p":"I","g":"low","t":1.0,"s":0.95,"c":0},{"p":"I","g":"low","t":1.3,"s":0.95,"c":1},{"p":"I","g":"low","t":1.5,"s":0.94,"c":0},{"p":"I","g":"low","t":1.8,"s":0.94,"c":1},{"p":"I","g":"low","t":2.0,"s":0.93,"c":0},{"p":"I","g":"low","t":2.3,"s":0.93,"c":1},{"p":"I","g":"low","t":2.7,"s":0.93,"c":1},{"p":"I","g":"low","t":3.0,"s":0.93,"c":1},{"p":"I","g":"low","t":3.3,"s":0.93,"c":1},{"p":"I","g":"low","t":3.6,"s":0.93,"c":1},{"p":"I","g":"low","t":4.0,"s":0.93,"c":1},{"p":"I","g":"low","t":4.3,"s":0.93,"c":1},{"p":"I","g":"low","t":4.6,"s":0.93,"c":1},{"p":"I","g":"low","t":5.0,"s":0.93,"c":1},{"p":"I","g":"low","t":5.3,"s":0.93,"c":1},{"p":"I","g":"low","t":5.6,"s":0.93,"c":1},{"p":"I","g":"low","t":5.85,"s":0.87,"c":0},{"p":"I","g":"low","t":6.3,"s":0.87,"c":1},{"p":"I","g":"low","t":6.7,"s":0.78,"c":0},{"p":"I","g":"low","t":7.5,"s":0.78,"c":1},{"p":"I","g":"low","t":8.95,"s":0.585,"c":0},{"p":"I","g":"low","t":9.3,"s":0.585,"c":1},{"p":"I","g":"low","t":9.5,"s":0.585,"c":1},
{"p":"J","g":"high","t":0,"s":1,"c":0},{"p":"J","g":"high","t":0.1,"s":0.96,"c":0},{"p":"J","g":"high","t":0.2,"s":0.91,"c":0},{"p":"J","g":"high","t":0.3,"s":0.87,"c":0},{"p":"J","g":"high","t":0.4,"s":0.82,"c":0},{"p":"J","g":"high","t":0.5,"s":0.76,"c":0},{"p":"J","g":"high","t":0.6,"s":0.69,"c":0},{"p":"J","g":"high","t":0.7,"s":0.62,"c":0},{"p":"J","g":"high","t":0.8,"s":0.58,"c":0},{"p":"J","g":"high","t":0.9,"s":0.51,"c":0},{"p":"J","g":"high","t":1.0,"s":0.47,"c":0},{"p":"J","g":"high","t":1.3,"s":0.44,"c":0},{"p":"J","g":"high","t":1.6,"s":0.4,"c":0},{"p":"J","g":"high","t":1.9,"s":0.35,"c":0},{"p":"J","g":"high","t":2.3,"s":0.32,"c":0},{"p":"J","g":"high","t":2.7,"s":0.29,"c":0},{"p":"J","g":"high","t":3.3,"s":0.29,"c":1},{"p":"J","g":"high","t":4.0,"s":0.24,"c":0},{"p":"J","g":"high","t":4.3,"s":0.19,"c":0},{"p":"J","g":"high","t":5.5,"s":0.19,"c":1},{"p":"J","g":"high","t":6.95,"s":0.1,"c":0},{"p":"J","g":"high","t":10.05,"s":0.1,"c":1},
{"p":"J","g":"low","t":0,"s":1,"c":0},{"p":"J","g":"low","t":0.6,"s":0.87,"c":0},{"p":"J","g":"low","t":0.9,"s":0.87,"c":1},{"p":"J","g":"low","t":1.2,"s":0.87,"c":1},{"p":"J","g":"low","t":1.5,"s":0.74,"c":0},{"p":"J","g":"low","t":1.8,"s":0.74,"c":1},{"p":"J","g":"low","t":2.3,"s":0.63,"c":0},{"p":"J","g":"low","t":3.0,"s":0.51,"c":0},{"p":"J","g":"low","t":3.5,"s":0.51,"c":1},{"p":"J","g":"low","t":4.3,"s":0.51,"c":1},{"p":"J","g":"low","t":5.5,"s":0.51,"c":1},{"p":"J","g":"low","t":6.7,"s":0.51,"c":1},{"p":"J","g":"low","t":8.55,"s":0.0,"c":0},
{"p":"K","g":"high","t":0,"s":1,"c":0},{"p":"K","g":"high","t":0.2,"s":0.98,"c":0},{"p":"K","g":"high","t":0.3,"s":0.96,"c":0},{"p":"K","g":"high","t":0.5,"s":0.92,"c":0},{"p":"K","g":"high","t":0.65,"s":0.89,"c":0},{"p":"K","g":"high","t":0.8,"s":0.86,"c":0},{"p":"K","g":"high","t":1.0,"s":0.82,"c":0},{"p":"K","g":"high","t":1.2,"s":0.77,"c":0},{"p":"K","g":"high","t":1.35,"s":0.75,"c":0},{"p":"K","g":"high","t":1.5,"s":0.74,"c":0},{"p":"K","g":"high","t":1.7,"s":0.74,"c":1},{"p":"K","g":"high","t":2.0,"s":0.72,"c":0},{"p":"K","g":"high","t":2.3,"s":0.72,"c":1},{"p":"K","g":"high","t":2.6,"s":0.69,"c":0},{"p":"K","g":"high","t":3.0,"s":0.69,"c":1},{"p":"K","g":"high","t":3.4,"s":0.67,"c":0},{"p":"K","g":"high","t":3.6,"s":0.67,"c":1},{"p":"K","g":"high","t":3.8,"s":0.65,"c":0},{"p":"K","g":"high","t":4.1,"s":0.6,"c":0},{"p":"K","g":"high","t":4.3,"s":0.55,"c":0},{"p":"K","g":"high","t":4.6,"s":0.51,"c":0},{"p":"K","g":"high","t":5.0,"s":0.51,"c":1},{"p":"K","g":"high","t":5.4,"s":0.51,"c":1},{"p":"K","g":"high","t":6.3,"s":0.51,"c":1},{"p":"K","g":"high","t":6.7,"s":0.51,"c":1},
{"p":"K","g":"low","t":0,"s":1,"c":0},{"p":"K","g":"low","t":0.2,"s":0.99,"c":0},{"p":"K","g":"low","t":0.4,"s":0.99,"c":1},{"p":"K","g":"low","t":0.5,"s":0.97,"c":0},{"p":"K","g":"low","t":0.8,"s":0.96,"c":0},{"p":"K","g":"low","t":1.0,"s":0.95,"c":0},{"p":"K","g":"low","t":1.3,"s":0.95,"c":1},{"p":"K","g":"low","t":1.5,"s":0.93,"c":0},{"p":"K","g":"low","t":1.8,"s":0.93,"c":1},{"p":"K","g":"low","t":2.0,"s":0.92,"c":0},{"p":"K","g":"low","t":2.3,"s":0.92,"c":1},{"p":"K","g":"low","t":2.7,"s":0.92,"c":1},{"p":"K","g":"low","t":3.0,"s":0.92,"c":1},{"p":"K","g":"low","t":3.3,"s":0.92,"c":1},{"p":"K","g":"low","t":3.6,"s":0.92,"c":1},{"p":"K","g":"low","t":4.0,"s":0.92,"c":1},{"p":"K","g":"low","t":4.3,"s":0.92,"c":1},{"p":"K","g":"low","t":4.6,"s":0.92,"c":1},{"p":"K","g":"low","t":5.0,"s":0.92,"c":1},{"p":"K","g":"low","t":5.3,"s":0.92,"c":1},{"p":"K","g":"low","t":5.6,"s":0.92,"c":1},{"p":"K","g":"low","t":5.85,"s":0.87,"c":0},{"p":"K","g":"low","t":6.3,"s":0.87,"c":1},{"p":"K","g":"low","t":6.7,"s":0.78,"c":0},{"p":"K","g":"low","t":7.5,"s":0.78,"c":1},{"p":"K","g":"low","t":8.95,"s":0.59,"c":0},{"p":"K","g":"low","t":9.3,"s":0.59,"c":1},{"p":"K","g":"low","t":9.5,"s":0.59,"c":1},
{"p":"L","g":"high","t":0,"s":1,"c":0},{"p":"L","g":"high","t":0.1,"s":0.95,"c":0},{"p":"L","g":"high","t":0.2,"s":0.91,"c":0},{"p":"L","g":"high","t":0.3,"s":0.86,"c":0},{"p":"L","g":"high","t":0.4,"s":0.82,"c":0},{"p":"L","g":"high","t":0.5,"s":0.77,"c":0},{"p":"L","g":"high","t":0.6,"s":0.72,"c":0},{"p":"L","g":"high","t":0.7,"s":0.65,"c":0},{"p":"L","g":"high","t":0.8,"s":0.58,"c":0},{"p":"L","g":"high","t":0.9,"s":0.53,"c":0},{"p":"L","g":"high","t":1.0,"s":0.49,"c":0},{"p":"L","g":"high","t":1.2,"s":0.46,"c":0},{"p":"L","g":"high","t":1.6,"s":0.42,"c":0},{"p":"L","g":"high","t":1.9,"s":0.35,"c":0},{"p":"L","g":"high","t":2.3,"s":0.3,"c":0},{"p":"L","g":"high","t":3.3,"s":0.3,"c":1},{"p":"L","g":"high","t":4.0,"s":0.24,"c":0},{"p":"L","g":"high","t":4.3,"s":0.19,"c":0},{"p":"L","g":"high","t":5.5,"s":0.19,"c":1},{"p":"L","g":"high","t":6.95,"s":0.1,"c":0},{"p":"L","g":"high","t":10.05,"s":0.1,"c":1},
{"p":"L","g":"low","t":0,"s":1,"c":0},{"p":"L","g":"low","t":0.6,"s":0.87,"c":0},{"p":"L","g":"low","t":1.0,"s":0.87,"c":1},{"p":"L","g":"low","t":1.5,"s":0.74,"c":0},{"p":"L","g":"low","t":1.8,"s":0.74,"c":1},{"p":"L","g":"low","t":2.3,"s":0.64,"c":0},{"p":"L","g":"low","t":3.3,"s":0.51,"c":0},{"p":"L","g":"low","t":4.3,"s":0.51,"c":1},{"p":"L","g":"low","t":5.5,"s":0.51,"c":1},{"p":"L","g":"low","t":6.7,"s":0.51,"c":1},{"p":"L","g":"low","t":8.55,"s":0.0,"c":0}
]},
"resolve":{"scale":{"color":"independent"},"legend":{"color":"independent"}},
"spacing":36,
"vconcat":[
{"spacing":0,"resolve":{"scale":{"color":"independent"},"legend":{"color":"independent"}},
"vconcat":[
{"spacing":12,"resolve":{"scale":{"color":"independent"},"legend":{"color":"independent"}},
"hconcat":[
{"title":{"text":"A","font":"Liberation Serif","fontSize":20,"fontWeight":"bold","anchor":"start","frame":"bounds","offset":-18},"spacing":36,"resolve":{"scale":{"color":"independent"},"legend":{"color":"independent"}},"vconcat":[
{"width":261,"height":114,"title":{"text":"Patients with age>65","anchor":"start","frame":"group","fontSize":12,"fontWeight":"normal"},"layer":[
{"data":{"name":"km"},"transform":[{"filter":"datum.p=='A'"}],"mark":{"type":"line","interpolate":"step-after","strokeWidth":1.6},"encoding":{"x":{"field":"t","type":"quantitative","scale":{"domain":[-0.5,10.5],"nice":false,"zero":false},"axis":{"values":[0,1,2,3,4,5,6,7,8,9,10],"format":"d","title":"Time(years)"}},"y":{"field":"s","type":"quantitative","scale":{"domain":[-0.05,1.05],"nice":false},"axis":{"values":[0,0.25,0.5,0.75,1],"format":".2f","title":"Survival probability"}},"color":{"field":"g","type":"nominal","scale":{"domain":["high","low"],"range":["#E8221E","#2B4DA0"]},"legend":{"title":"Risk","symbolType":"M-1,0L1,0M0,-0.6L0,0.6","symbolSize":180}}}},
{"data":{"name":"km"},"transform":[{"filter":"datum.p=='A' && datum.c==1"}],"mark":{"type":"point","shape":"M-1,0L1,0M0,-1L0,1","size":36,"strokeWidth":1,"filled":false,"opacity":1},"encoding":{"x":{"field":"t","type":"quantitative","scale":{"domain":[-0.5,10.5],"nice":false,"zero":false},"axis":{"values":[0,1,2,3,4,5,6,7,8,9,10],"format":"d","title":"Time(years)"}},"y":{"field":"s","type":"quantitative","scale":{"domain":[-0.05,1.05],"nice":false},"axis":{"values":[0,0.25,0.5,0.75,1],"format":".2f","title":"Survival probability"}},"color":{"field":"g","type":"nominal","scale":{"domain":["high","low"],"range":["#E8221E","#2B4DA0"]},"legend":{"title":"Risk","symbolType":"M-1,0L1,0M0,-0.6L0,0.6","symbolSize":180}}}},
{"data":{"name":"pv"},"transform":[{"filter":"datum.p=='A'"}],"mark":{"type":"text","align":"left","baseline":"middle","fontSize":14,"color":"black"},"encoding":{"x":{"datum":0.2,"type":"quantitative","scale":{"domain":[-0.5,10.5],"nice":false,"zero":false},"axis":{"values":[0,1,2,3,4,5,6,7,8,9,10],"format":"d","title":"Time(years)"}},"y":{"datum":0.2,"type":"quantitative","scale":{"domain":[-0.05,1.05],"nice":false},"axis":{"values":[0,0.25,0.5,0.75,1],"format":".2f","title":"Survival probability"}},"text":{"field":"label"}}}]},
{"width":261,"height":20,"data":{"name":"risk"},"transform":[{"filter":"datum.p=='A'"}],"mark":{"type":"text","fontSize":10},"encoding":{"x":{"field":"t","type":"quantitative","scale":{"domain":[-0.5,10.5],"nice":false,"zero":false},"axis":{"values":[0,1,2,3,4,5,6,7,8,9,10],"format":"d","title":"Time(years)"}},"y":{"field":"g","type":"nominal","scale":{"domain":["high","low"]},"axis":{"title":"Risk","labelColor":{"condition":{"test":"datum.value=='high'","value":"#E8221E"},"value":"#2B4DA0"}}},"text":{"field":"n","type":"quantitative"},"color":{"condition":{"test":"datum.g=='high'","value":"#E8221E"},"value":"#2B4DA0"}}}]},
{"title":{"text":"B","font":"Liberation Serif","fontSize":20,"fontWeight":"bold","anchor":"start","frame":"bounds","offset":-18},"spacing":36,"resolve":{"scale":{"color":"independent"},"legend":{"color":"independent"}},"vconcat":[
{"width":261,"height":114,"title":{"text":"Patients with age<=65","anchor":"start","frame":"group","fontSize":12,"fontWeight":"normal"},"layer":[
{"data":{"name":"km"},"transform":[{"filter":"datum.p=='B'"}],"mark":{"type":"line","interpolate":"step-after","strokeWidth":1.6},"encoding":{"x":{"field":"t","type":"quantitative","scale":{"domain":[-0.5,10.5],"nice":false,"zero":false},"axis":{"values":[0,1,2,3,4,5,6,7,8,9,10],"format":"d","title":"Time(years)"}},"y":{"field":"s","type":"quantitative","scale":{"domain":[-0.05,1.05],"nice":false},"axis":{"values":[0,0.25,0.5,0.75,1],"format":".2f","title":"Survival probability"}},"color":{"field":"g","type":"nominal","scale":{"domain":["high","low"],"range":["#E8221E","#2B4DA0"]},"legend":{"title":"Risk","symbolType":"M-1,0L1,0M0,-0.6L0,0.6","symbolSize":180}}}},
{"data":{"name":"km"},"transform":[{"filter":"datum.p=='B' && datum.c==1"}],"mark":{"type":"point","shape":"M-1,0L1,0M0,-1L0,1","size":36,"strokeWidth":1,"filled":false,"opacity":1},"encoding":{"x":{"field":"t","type":"quantitative","scale":{"domain":[-0.5,10.5],"nice":false,"zero":false},"axis":{"values":[0,1,2,3,4,5,6,7,8,9,10],"format":"d","title":"Time(years)"}},"y":{"field":"s","type":"quantitative","scale":{"domain":[-0.05,1.05],"nice":false},"axis":{"values":[0,0.25,0.5,0.75,1],"format":".2f","title":"Survival probability"}},"color":{"field":"g","type":"nominal","scale":{"domain":["high","low"],"range":["#E8221E","#2B4DA0"]},"legend":{"title":"Risk","symbolType":"M-1,0L1,0M0,-0.6L0,0.6","symbolSize":180}}}},
{"data":{"name":"pv"},"transform":[{"filter":"datum.p=='B'"}],"mark":{"type":"text","align":"left","baseline":"middle","fontSize":14,"color":"black"},"encoding":{"x":{"datum":0.2,"type":"quantitative","scale":{"domain":[-0.5,10.5],"nice":false,"zero":false},"axis":{"values":[0,1,2,3,4,5,6,7,8,9,10],"format":"d","title":"Time(years)"}},"y":{"datum":0.2,"type":"quantitative","scale":{"domain":[-0.05,1.05],"nice":false},"axis":{"values":[0,0.25,0.5,0.75,1],"format":".2f","title":"Survival probability"}},"text":{"field":"label"}}}]},
{"width":261,"height":20,"data":{"name":"risk"},"transform":[{"filter":"datum.p=='B'"}],"mark":{"type":"text","fontSize":10},"encoding":{"x":{"field":"t","type":"quantitative","scale":{"domain":[-0.5,10.5],"nice":false,"zero":false},"axis":{"values":[0,1,2,3,4,5,6,7,8,9,10],"format":"d","title":"Time(years)"}},"y":{"field":"g","type":"nominal","scale":{"domain":["high","low"]},"axis":{"title":"Risk","labelColor":{"condition":{"test":"datum.value=='high'","value":"#E8221E"},"value":"#2B4DA0"}}},"text":{"field":"n","type":"quantitative"},"color":{"condition":{"test":"datum.g=='high'","value":"#E8221E"},"value":"#2B4DA0"}}}]},
{"title":{"text":"C","font":"Liberation Serif","fontSize":20,"fontWeight":"bold","anchor":"start","frame":"bounds","offset":-18},"spacing":36,"resolve":{"scale":{"color":"independent"},"legend":{"color":"independent"}},"vconcat":[
{"width":261,"height":114,"title":{"text":"Patients with Female","anchor":"start","frame":"group","fontSize":12,"fontWeight":"normal"},"layer":[
{"data":{"name":"km"},"transform":[{"filter":"datum.p=='C'"}],"mark":{"type":"line","interpolate":"step-after","strokeWidth":1.6},"encoding":{"x":{"field":"t","type":"quantitative","scale":{"domain":[-0.5,10.5],"nice":false,"zero":false},"axis":{"values":[0,1,2,3,4,5,6,7,8,9,10],"format":"d","title":"Time(years)"}},"y":{"field":"s","type":"quantitative","scale":{"domain":[-0.05,1.05],"nice":false},"axis":{"values":[0,0.25,0.5,0.75,1],"format":".2f","title":"Survival probability"}},"color":{"field":"g","type":"nominal","scale":{"domain":["high","low"],"range":["#E8221E","#2B4DA0"]},"legend":{"title":"Risk","symbolType":"M-1,0L1,0M0,-0.6L0,0.6","symbolSize":180}}}},
{"data":{"name":"km"},"transform":[{"filter":"datum.p=='C' && datum.c==1"}],"mark":{"type":"point","shape":"M-1,0L1,0M0,-1L0,1","size":36,"strokeWidth":1,"filled":false,"opacity":1},"encoding":{"x":{"field":"t","type":"quantitative","scale":{"domain":[-0.5,10.5],"nice":false,"zero":false},"axis":{"values":[0,1,2,3,4,5,6,7,8,9,10],"format":"d","title":"Time(years)"}},"y":{"field":"s","type":"quantitative","scale":{"domain":[-0.05,1.05],"nice":false},"axis":{"values":[0,0.25,0.5,0.75,1],"format":".2f","title":"Survival probability"}},"color":{"field":"g","type":"nominal","scale":{"domain":["high","low"],"range":["#E8221E","#2B4DA0"]},"legend":{"title":"Risk","symbolType":"M-1,0L1,0M0,-0.6L0,0.6","symbolSize":180}}}},
{"data":{"name":"pv"},"transform":[{"filter":"datum.p=='C'"}],"mark":{"type":"text","align":"left","baseline":"middle","fontSize":14,"color":"black"},"encoding":{"x":{"datum":0.2,"type":"quantitative","scale":{"domain":[-0.5,10.5],"nice":false,"zero":false},"axis":{"values":[0,1,2,3,4,5,6,7,8,9,10],"format":"d","title":"Time(years)"}},"y":{"datum":0.2,"type":"quantitative","scale":{"domain":[-0.05,1.05],"nice":false},"axis":{"values":[0,0.25,0.5,0.75,1],"format":".2f","title":"Survival probability"}},"text":{"field":"label"}}}]},
{"width":261,"height":20,"data":{"name":"risk"},"transform":[{"filter":"datum.p=='C'"}],"mark":{"type":"text","fontSize":10},"encoding":{"x":{"field":"t","type":"quantitative","scale":{"domain":[-0.5,10.5],"nice":false,"zero":false},"axis":{"values":[0,1,2,3,4,5,6,7,8,9,10],"format":"d","title":"Time(years)"}},"y":{"field":"g","type":"nominal","scale":{"domain":["high","low"]},"axis":{"title":"Risk","labelColor":{"condition":{"test":"datum.value=='high'","value":"#E8221E"},"value":"#2B4DA0"}}},"text":{"field":"n","type":"quantitative"},"color":{"condition":{"test":"datum.g=='high'","value":"#E8221E"},"value":"#2B4DA0"}}}]},
{"title":{"text":"D","font":"Liberation Serif","fontSize":20,"fontWeight":"bold","anchor":"start","frame":"bounds","offset":-18},"spacing":36,"resolve":{"scale":{"color":"independent"},"legend":{"color":"independent"}},"vconcat":[
{"width":261,"height":114,"title":{"text":"Patients with Male","anchor":"start","frame":"group","fontSize":12,"fontWeight":"normal"},"layer":[
{"data":{"name":"km"},"transform":[{"filter":"datum.p=='D'"}],"mark":{"type":"line","interpolate":"step-after","strokeWidth":1.6},"encoding":{"x":{"field":"t","type":"quantitative","scale":{"domain":[-0.5,10.5],"nice":false,"zero":false},"axis":{"values":[0,1,2,3,4,5,6,7,8,9,10],"format":"d","title":"Time(years)"}},"y":{"field":"s","type":"quantitative","scale":{"domain":[-0.05,1.05],"nice":false},"axis":{"values":[0,0.25,0.5,0.75,1],"format":".2f","title":"Survival probability"}},"color":{"field":"g","type":"nominal","scale":{"domain":["high","low"],"range":["#E8221E","#2B4DA0"]},"legend":{"title":"Risk","symbolType":"M-1,0L1,0M0,-0.6L0,0.6","symbolSize":180}}}},
{"data":{"name":"km"},"transform":[{"filter":"datum.p=='D' && datum.c==1"}],"mark":{"type":"point","shape":"M-1,0L1,0M0,-1L0,1","size":36,"strokeWidth":1,"filled":false,"opacity":1},"encoding":{"x":{"field":"t","type":"quantitative","scale":{"domain":[-0.5,10.5],"nice":false,"zero":false},"axis":{"values":[0,1,2,3,4,5,6,7,8,9,10],"format":"d","title":"Time(years)"}},"y":{"field":"s","type":"quantitative","scale":{"domain":[-0.05,1.05],"nice":false},"axis":{"values":[0,0.25,0.5,0.75,1],"format":".2f","title":"Survival probability"}},"color":{"field":"g","type":"nominal","scale":{"domain":["high","low"],"range":["#E8221E","#2B4DA0"]},"legend":{"title":"Risk","symbolType":"M-1,0L1,0M0,-0.6L0,0.6","symbolSize":180}}}},
{"data":{"name":"pv"},"transform":[{"filter":"datum.p=='D'"}],"mark":{"type":"text","align":"left","baseline":"middle","fontSize":14,"color":"black"},"encoding":{"x":{"datum":0.2,"type":"quantitative","scale":{"domain":[-0.5,10.5],"nice":false,"zero":false},"axis":{"values":[0,1,2,3,4,5,6,7,8,9,10],"format":"d","title":"Time(years)"}},"y":{"datum":0.2,"type":"quantitative","scale":{"domain":[-0.05,1.05],"nice":false},"axis":{"values":[0,0.25,0.5,0.75,1],"format":".2f","title":"Survival probability"}},"text":{"field":"label"}}}]},
{"width":261,"height":20,"data":{"name":"risk"},"transform":[{"filter":"datum.p=='D'"}],"mark":{"type":"text","fontSize":10},"encoding":{"x":{"field":"t","type":"quantitative","scale":{"domain":[-0.5,10.5],"nice":false,"zero":false},"axis":{"values":[0,1,2,3,4,5,6,7,8,9,10],"format":"d","title":"Time(years)"}},"y":{"field":"g","type":"nominal","scale":{"domain":["high","low"]},"axis":{"title":"Risk","labelColor":{"condition":{"test":"datum.value=='high'","value":"#E8221E"},"value":"#2B4DA0"}}},"text":{"field":"n","type":"quantitative"},"color":{"condition":{"test":"datum.g=='high'","value":"#E8221E"},"value":"#2B4DA0"}}}]}
]},
{"spacing":12,"resolve":{"scale":{"color":"independent"},"legend":{"color":"independent"}},
"hconcat":[
{"title":{"text":"E","font":"Liberation Serif","fontSize":20,"fontWeight":"bold","anchor":"start","frame":"bounds","offset":-18},"spacing":51,"resolve":{"scale":{"color":"independent"},"legend":{"color":"independent"}},"vconcat":[
{"width":261,"height":117,"title":{"text":"Patients with Grade I−II","anchor":"start","frame":"group","fontSize":12,"fontWeight":"normal"},"layer":[
{"data":{"name":"km"},"transform":[{"filter":"datum.p=='E'"}],"mark":{"type":"line","interpolate":"step-after","strokeWidth":1.6},"encoding":{"x":{"field":"t","type":"quantitative","scale":{"domain":[-0.5,10.5],"nice":false,"zero":false},"axis":{"values":[0,1,2,3,4,5,6,7,8,9,10],"format":"d","title":"Time(years)"}},"y":{"field":"s","type":"quantitative","scale":{"domain":[-0.05,1.05],"nice":false},"axis":{"values":[0,0.25,0.5,0.75,1],"format":".2f","title":"Survival probability"}},"color":{"field":"g","type":"nominal","scale":{"domain":["high","low"],"range":["#E8221E","#2B4DA0"]},"legend":{"title":"Risk","symbolType":"M-1,0L1,0M0,-0.6L0,0.6","symbolSize":180}}}},
{"data":{"name":"km"},"transform":[{"filter":"datum.p=='E' && datum.c==1"}],"mark":{"type":"point","shape":"M-1,0L1,0M0,-1L0,1","size":36,"strokeWidth":1,"filled":false,"opacity":1},"encoding":{"x":{"field":"t","type":"quantitative","scale":{"domain":[-0.5,10.5],"nice":false,"zero":false},"axis":{"values":[0,1,2,3,4,5,6,7,8,9,10],"format":"d","title":"Time(years)"}},"y":{"field":"s","type":"quantitative","scale":{"domain":[-0.05,1.05],"nice":false},"axis":{"values":[0,0.25,0.5,0.75,1],"format":".2f","title":"Survival probability"}},"color":{"field":"g","type":"nominal","scale":{"domain":["high","low"],"range":["#E8221E","#2B4DA0"]},"legend":{"title":"Risk","symbolType":"M-1,0L1,0M0,-0.6L0,0.6","symbolSize":180}}}},
{"data":{"name":"pv"},"transform":[{"filter":"datum.p=='E'"}],"mark":{"type":"text","align":"left","baseline":"middle","fontSize":14,"color":"black"},"encoding":{"x":{"datum":0.2,"type":"quantitative","scale":{"domain":[-0.5,10.5],"nice":false,"zero":false},"axis":{"values":[0,1,2,3,4,5,6,7,8,9,10],"format":"d","title":"Time(years)"}},"y":{"datum":0.2,"type":"quantitative","scale":{"domain":[-0.05,1.05],"nice":false},"axis":{"values":[0,0.25,0.5,0.75,1],"format":".2f","title":"Survival probability"}},"text":{"field":"label"}}}]},
{"width":261,"height":20,"data":{"name":"risk"},"transform":[{"filter":"datum.p=='E'"}],"mark":{"type":"text","fontSize":10},"encoding":{"x":{"field":"t","type":"quantitative","scale":{"domain":[-0.5,10.5],"nice":false,"zero":false},"axis":{"values":[0,1,2,3,4,5,6,7,8,9,10],"format":"d","title":"Time(years)"}},"y":{"field":"g","type":"nominal","scale":{"domain":["high","low"]},"axis":{"title":"Risk","labelColor":{"condition":{"test":"datum.value=='high'","value":"#E8221E"},"value":"#2B4DA0"}}},"text":{"field":"n","type":"quantitative"},"color":{"condition":{"test":"datum.g=='high'","value":"#E8221E"},"value":"#2B4DA0"}}}]},
{"title":{"text":"F","font":"Liberation Serif","fontSize":20,"fontWeight":"bold","anchor":"start","frame":"bounds","offset":-18},"spacing":51,"resolve":{"scale":{"color":"independent"},"legend":{"color":"independent"}},"vconcat":[
{"width":261,"height":117,"title":{"text":"Patients with Grade III−IV","anchor":"start","frame":"group","fontSize":12,"fontWeight":"normal"},"layer":[
{"data":{"name":"km"},"transform":[{"filter":"datum.p=='F'"}],"mark":{"type":"line","interpolate":"step-after","strokeWidth":1.6},"encoding":{"x":{"field":"t","type":"quantitative","scale":{"domain":[-0.5,10.5],"nice":false,"zero":false},"axis":{"values":[0,1,2,3,4,5,6,7,8,9,10],"format":"d","title":"Time(years)"}},"y":{"field":"s","type":"quantitative","scale":{"domain":[-0.05,1.05],"nice":false},"axis":{"values":[0,0.25,0.5,0.75,1],"format":".2f","title":"Survival probability"}},"color":{"field":"g","type":"nominal","scale":{"domain":["high","low"],"range":["#E8221E","#2B4DA0"]},"legend":{"title":"Risk","symbolType":"M-1,0L1,0M0,-0.6L0,0.6","symbolSize":180}}}},
{"data":{"name":"km"},"transform":[{"filter":"datum.p=='F' && datum.c==1"}],"mark":{"type":"point","shape":"M-1,0L1,0M0,-1L0,1","size":36,"strokeWidth":1,"filled":false,"opacity":1},"encoding":{"x":{"field":"t","type":"quantitative","scale":{"domain":[-0.5,10.5],"nice":false,"zero":false},"axis":{"values":[0,1,2,3,4,5,6,7,8,9,10],"format":"d","title":"Time(years)"}},"y":{"field":"s","type":"quantitative","scale":{"domain":[-0.05,1.05],"nice":false},"axis":{"values":[0,0.25,0.5,0.75,1],"format":".2f","title":"Survival probability"}},"color":{"field":"g","type":"nominal","scale":{"domain":["high","low"],"range":["#E8221E","#2B4DA0"]},"legend":{"title":"Risk","symbolType":"M-1,0L1,0M0,-0.6L0,0.6","symbolSize":180}}}},
{"data":{"name":"pv"},"transform":[{"filter":"datum.p=='F'"}],"mark":{"type":"text","align":"left","baseline":"middle","fontSize":14,"color":"black"},"encoding":{"x":{"datum":0.2,"type":"quantitative","scale":{"domain":[-0.5,10.5],"nice":false,"zero":false},"axis":{"values":[0,1,2,3,4,5,6,7,8,9,10],"format":"d","title":"Time(years)"}},"y":{"datum":0.2,"type":"quantitative","scale":{"domain":[-0.05,1.05],"nice":false},"axis":{"values":[0,0.25,0.5,0.75,1],"format":".2f","title":"Survival probability"}},"text":{"field":"label"}}}]},
{"width":261,"height":20,"data":{"name":"risk"},"transform":[{"filter":"datum.p=='F'"}],"mark":{"type":"text","fontSize":10},"encoding":{"x":{"field":"t","type":"quantitative","scale":{"domain":[-0.5,10.5],"nice":false,"zero":false},"axis":{"values":[0,1,2,3,4,5,6,7,8,9,10],"format":"d","title":"Time(years)"}},"y":{"field":"g","type":"nominal","scale":{"domain":["high","low"]},"axis":{"title":"Risk","labelColor":{"condition":{"test":"datum.value=='high'","value":"#E8221E"},"value":"#2B4DA0"}}},"text":{"field":"n","type":"quantitative"},"color":{"condition":{"test":"datum.g=='high'","value":"#E8221E"},"value":"#2B4DA0"}}}]},
{"title":{"text":"G","font":"Liberation Serif","fontSize":20,"fontWeight":"bold","anchor":"start","frame":"bounds","offset":-18},"spacing":51,"resolve":{"scale":{"color":"independent"},"legend":{"color":"independent"}},"vconcat":[
{"width":261,"height":117,"title":{"text":"Patients with M0","anchor":"start","frame":"group","fontSize":12,"fontWeight":"normal"},"layer":[
{"data":{"name":"km"},"transform":[{"filter":"datum.p=='G'"}],"mark":{"type":"line","interpolate":"step-after","strokeWidth":1.6},"encoding":{"x":{"field":"t","type":"quantitative","scale":{"domain":[-0.5,10.5],"nice":false,"zero":false},"axis":{"values":[0,1,2,3,4,5,6,7,8,9,10],"format":"d","title":"Time(years)"}},"y":{"field":"s","type":"quantitative","scale":{"domain":[-0.05,1.05],"nice":false},"axis":{"values":[0,0.25,0.5,0.75,1],"format":".2f","title":"Survival probability"}},"color":{"field":"g","type":"nominal","scale":{"domain":["high","low"],"range":["#E8221E","#2B4DA0"]},"legend":{"title":"Risk","symbolType":"M-1,0L1,0M0,-0.6L0,0.6","symbolSize":180}}}},
{"data":{"name":"km"},"transform":[{"filter":"datum.p=='G' && datum.c==1"}],"mark":{"type":"point","shape":"M-1,0L1,0M0,-1L0,1","size":36,"strokeWidth":1,"filled":false,"opacity":1},"encoding":{"x":{"field":"t","type":"quantitative","scale":{"domain":[-0.5,10.5],"nice":false,"zero":false},"axis":{"values":[0,1,2,3,4,5,6,7,8,9,10],"format":"d","title":"Time(years)"}},"y":{"field":"s","type":"quantitative","scale":{"domain":[-0.05,1.05],"nice":false},"axis":{"values":[0,0.25,0.5,0.75,1],"format":".2f","title":"Survival probability"}},"color":{"field":"g","type":"nominal","scale":{"domain":["high","low"],"range":["#E8221E","#2B4DA0"]},"legend":{"title":"Risk","symbolType":"M-1,0L1,0M0,-0.6L0,0.6","symbolSize":180}}}},
{"data":{"name":"pv"},"transform":[{"filter":"datum.p=='G'"}],"mark":{"type":"text","align":"left","baseline":"middle","fontSize":14,"color":"black"},"encoding":{"x":{"datum":0.2,"type":"quantitative","scale":{"domain":[-0.5,10.5],"nice":false,"zero":false},"axis":{"values":[0,1,2,3,4,5,6,7,8,9,10],"format":"d","title":"Time(years)"}},"y":{"datum":0.2,"type":"quantitative","scale":{"domain":[-0.05,1.05],"nice":false},"axis":{"values":[0,0.25,0.5,0.75,1],"format":".2f","title":"Survival probability"}},"text":{"field":"label"}}}]},
{"width":261,"height":20,"data":{"name":"risk"},"transform":[{"filter":"datum.p=='G'"}],"mark":{"type":"text","fontSize":10},"encoding":{"x":{"field":"t","type":"quantitative","scale":{"domain":[-0.5,10.5],"nice":false,"zero":false},"axis":{"values":[0,1,2,3,4,5,6,7,8,9,10],"format":"d","title":"Time(years)"}},"y":{"field":"g","type":"nominal","scale":{"domain":["high","low"]},"axis":{"title":"Risk","labelColor":{"condition":{"test":"datum.value=='high'","value":"#E8221E"},"value":"#2B4DA0"}}},"text":{"field":"n","type":"quantitative"},"color":{"condition":{"test":"datum.g=='high'","value":"#E8221E"},"value":"#2B4DA0"}}}]},
{"title":{"text":"H","font":"Liberation Serif","fontSize":20,"fontWeight":"bold","anchor":"start","frame":"bounds","offset":-18},"spacing":51,"resolve":{"scale":{"color":"independent"},"legend":{"color":"independent"}},"vconcat":[
{"width":261,"height":117,"title":{"text":"Patients with N0","anchor":"start","frame":"group","fontSize":12,"fontWeight":"normal"},"layer":[
{"data":{"name":"km"},"transform":[{"filter":"datum.p=='H'"}],"mark":{"type":"line","interpolate":"step-after","strokeWidth":1.6},"encoding":{"x":{"field":"t","type":"quantitative","scale":{"domain":[-0.5,10.5],"nice":false,"zero":false},"axis":{"values":[0,1,2,3,4,5,6,7,8,9,10],"format":"d","title":"Time(years)"}},"y":{"field":"s","type":"quantitative","scale":{"domain":[-0.05,1.05],"nice":false},"axis":{"values":[0,0.25,0.5,0.75,1],"format":".2f","title":"Survival probability"}},"color":{"field":"g","type":"nominal","scale":{"domain":["high","low"],"range":["#E8221E","#2B4DA0"]},"legend":{"title":"Risk","symbolType":"M-1,0L1,0M0,-0.6L0,0.6","symbolSize":180}}}},
{"data":{"name":"km"},"transform":[{"filter":"datum.p=='H' && datum.c==1"}],"mark":{"type":"point","shape":"M-1,0L1,0M0,-1L0,1","size":36,"strokeWidth":1,"filled":false,"opacity":1},"encoding":{"x":{"field":"t","type":"quantitative","scale":{"domain":[-0.5,10.5],"nice":false,"zero":false},"axis":{"values":[0,1,2,3,4,5,6,7,8,9,10],"format":"d","title":"Time(years)"}},"y":{"field":"s","type":"quantitative","scale":{"domain":[-0.05,1.05],"nice":false},"axis":{"values":[0,0.25,0.5,0.75,1],"format":".2f","title":"Survival probability"}},"color":{"field":"g","type":"nominal","scale":{"domain":["high","low"],"range":["#E8221E","#2B4DA0"]},"legend":{"title":"Risk","symbolType":"M-1,0L1,0M0,-0.6L0,0.6","symbolSize":180}}}},
{"data":{"name":"pv"},"transform":[{"filter":"datum.p=='H'"}],"mark":{"type":"text","align":"left","baseline":"middle","fontSize":14,"color":"black"},"encoding":{"x":{"datum":0.2,"type":"quantitative","scale":{"domain":[-0.5,10.5],"nice":false,"zero":false},"axis":{"values":[0,1,2,3,4,5,6,7,8,9,10],"format":"d","title":"Time(years)"}},"y":{"datum":0.2,"type":"quantitative","scale":{"domain":[-0.05,1.05],"nice":false},"axis":{"values":[0,0.25,0.5,0.75,1],"format":".2f","title":"Survival probability"}},"text":{"field":"label"}}}]},
{"width":261,"height":20,"data":{"name":"risk"},"transform":[{"filter":"datum.p=='H'"}],"mark":{"type":"text","fontSize":10},"encoding":{"x":{"field":"t","type":"quantitative","scale":{"domain":[-0.5,10.5],"nice":false,"zero":false},"axis":{"values":[0,1,2,3,4,5,6,7,8,9,10],"format":"d","title":"Time(years)"}},"y":{"field":"g","type":"nominal","scale":{"domain":["high","low"]},"axis":{"title":"Risk","labelColor":{"condition":{"test":"datum.value=='high'","value":"#E8221E"},"value":"#2B4DA0"}}},"text":{"field":"n","type":"quantitative"},"color":{"condition":{"test":"datum.g=='high'","value":"#E8221E"},"value":"#2B4DA0"}}}]}
]}
]},
{"spacing":12,"resolve":{"scale":{"color":"independent"},"legend":{"color":"independent"}},
"hconcat":[
{"title":{"text":"I","font":"Liberation Serif","fontSize":20,"fontWeight":"bold","anchor":"start","frame":"bounds","offset":-18},"spacing":7,"resolve":{"scale":{"color":"independent"},"legend":{"color":"independent"}},"vconcat":[
{"width":261,"height":117,"title":{"text":"Patients with Stage I−II","anchor":"start","frame":"group","fontSize":12,"fontWeight":"normal"},"layer":[
{"data":{"name":"km"},"transform":[{"filter":"datum.p=='I'"}],"mark":{"type":"line","interpolate":"step-after","strokeWidth":1.6},"encoding":{"x":{"field":"t","type":"quantitative","scale":{"domain":[-0.5,10.5],"nice":false,"zero":false},"axis":{"values":[0,1,2,3,4,5,6,7,8,9,10],"format":"d","title":"Time(years)"}},"y":{"field":"s","type":"quantitative","scale":{"domain":[-0.05,1.05],"nice":false},"axis":{"values":[0,0.25,0.5,0.75,1],"format":".2f","title":"Survival probability"}},"color":{"field":"g","type":"nominal","scale":{"domain":["high","low"],"range":["#E8221E","#2B4DA0"]},"legend":{"title":"Risk","symbolType":"M-1,0L1,0M0,-0.6L0,0.6","symbolSize":180}}}},
{"data":{"name":"km"},"transform":[{"filter":"datum.p=='I' && datum.c==1"}],"mark":{"type":"point","shape":"M-1,0L1,0M0,-1L0,1","size":36,"strokeWidth":1,"filled":false,"opacity":1},"encoding":{"x":{"field":"t","type":"quantitative","scale":{"domain":[-0.5,10.5],"nice":false,"zero":false},"axis":{"values":[0,1,2,3,4,5,6,7,8,9,10],"format":"d","title":"Time(years)"}},"y":{"field":"s","type":"quantitative","scale":{"domain":[-0.05,1.05],"nice":false},"axis":{"values":[0,0.25,0.5,0.75,1],"format":".2f","title":"Survival probability"}},"color":{"field":"g","type":"nominal","scale":{"domain":["high","low"],"range":["#E8221E","#2B4DA0"]},"legend":{"title":"Risk","symbolType":"M-1,0L1,0M0,-0.6L0,0.6","symbolSize":180}}}},
{"data":{"name":"pv"},"transform":[{"filter":"datum.p=='I'"}],"mark":{"type":"text","align":"left","baseline":"middle","fontSize":14,"color":"black"},"encoding":{"x":{"datum":0.2,"type":"quantitative","scale":{"domain":[-0.5,10.5],"nice":false,"zero":false},"axis":{"values":[0,1,2,3,4,5,6,7,8,9,10],"format":"d","title":"Time(years)"}},"y":{"datum":0.2,"type":"quantitative","scale":{"domain":[-0.05,1.05],"nice":false},"axis":{"values":[0,0.25,0.5,0.75,1],"format":".2f","title":"Survival probability"}},"text":{"field":"label"}}}]},
{"width":261,"height":20,"data":{"name":"risk"},"transform":[{"filter":"datum.p=='I'"}],"mark":{"type":"text","fontSize":10},"encoding":{"x":{"field":"t","type":"quantitative","scale":{"domain":[-0.5,10.5],"nice":false,"zero":false},"axis":{"values":[0,1,2,3,4,5,6,7,8,9,10],"format":"d","title":"Time(years)"}},"y":{"field":"g","type":"nominal","scale":{"domain":["high","low"]},"axis":{"title":"Risk","labelColor":{"condition":{"test":"datum.value=='high'","value":"#E8221E"},"value":"#2B4DA0"}}},"text":{"field":"n","type":"quantitative"},"color":{"condition":{"test":"datum.g=='high'","value":"#E8221E"},"value":"#2B4DA0"}}}]},
{"title":{"text":"J","font":"Liberation Serif","fontSize":20,"fontWeight":"bold","anchor":"start","frame":"bounds","offset":-18},"spacing":7,"resolve":{"scale":{"color":"independent"},"legend":{"color":"independent"}},"vconcat":[
{"width":261,"height":117,"title":{"text":"Patients with Stage III−IV","anchor":"start","frame":"group","fontSize":12,"fontWeight":"normal"},"layer":[
{"data":{"name":"km"},"transform":[{"filter":"datum.p=='J'"}],"mark":{"type":"line","interpolate":"step-after","strokeWidth":1.6},"encoding":{"x":{"field":"t","type":"quantitative","scale":{"domain":[-0.5,10.5],"nice":false,"zero":false},"axis":{"values":[0,1,2,3,4,5,6,7,8,9,10],"format":"d","title":"Time(years)"}},"y":{"field":"s","type":"quantitative","scale":{"domain":[-0.05,1.05],"nice":false},"axis":{"values":[0,0.25,0.5,0.75,1],"format":".2f","title":"Survival probability"}},"color":{"field":"g","type":"nominal","scale":{"domain":["high","low"],"range":["#E8221E","#2B4DA0"]},"legend":{"title":"Risk","symbolType":"M-1,0L1,0M0,-0.6L0,0.6","symbolSize":180}}}},
{"data":{"name":"km"},"transform":[{"filter":"datum.p=='J' && datum.c==1"}],"mark":{"type":"point","shape":"M-1,0L1,0M0,-1L0,1","size":36,"strokeWidth":1,"filled":false,"opacity":1},"encoding":{"x":{"field":"t","type":"quantitative","scale":{"domain":[-0.5,10.5],"nice":false,"zero":false},"axis":{"values":[0,1,2,3,4,5,6,7,8,9,10],"format":"d","title":"Time(years)"}},"y":{"field":"s","type":"quantitative","scale":{"domain":[-0.05,1.05],"nice":false},"axis":{"values":[0,0.25,0.5,0.75,1],"format":".2f","title":"Survival probability"}},"color":{"field":"g","type":"nominal","scale":{"domain":["high","low"],"range":["#E8221E","#2B4DA0"]},"legend":{"title":"Risk","symbolType":"M-1,0L1,0M0,-0.6L0,0.6","symbolSize":180}}}},
{"data":{"name":"pv"},"transform":[{"filter":"datum.p=='J'"}],"mark":{"type":"text","align":"left","baseline":"middle","fontSize":14,"color":"black"},"encoding":{"x":{"datum":0.2,"type":"quantitative","scale":{"domain":[-0.5,10.5],"nice":false,"zero":false},"axis":{"values":[0,1,2,3,4,5,6,7,8,9,10],"format":"d","title":"Time(years)"}},"y":{"datum":0.2,"type":"quantitative","scale":{"domain":[-0.05,1.05],"nice":false},"axis":{"values":[0,0.25,0.5,0.75,1],"format":".2f","title":"Survival probability"}},"text":{"field":"label"}}}]},
{"width":261,"height":20,"data":{"name":"risk"},"transform":[{"filter":"datum.p=='J'"}],"mark":{"type":"text","fontSize":10},"encoding":{"x":{"field":"t","type":"quantitative","scale":{"domain":[-0.5,10.5],"nice":false,"zero":false},"axis":{"values":[0,1,2,3,4,5,6,7,8,9,10],"format":"d","title":"Time(years)"}},"y":{"field":"g","type":"nominal","scale":{"domain":["high","low"]},"axis":{"title":"Risk","labelColor":{"condition":{"test":"datum.value=='high'","value":"#E8221E"},"value":"#2B4DA0"}}},"text":{"field":"n","type":"quantitative"},"color":{"condition":{"test":"datum.g=='high'","value":"#E8221E"},"value":"#2B4DA0"}}}]},
{"title":{"text":"K","font":"Liberation Serif","fontSize":20,"fontWeight":"bold","anchor":"start","frame":"bounds","offset":-18},"spacing":7,"resolve":{"scale":{"color":"independent"},"legend":{"color":"independent"}},"vconcat":[
{"width":261,"height":117,"title":{"text":"Patients with T1−2","anchor":"start","frame":"group","fontSize":12,"fontWeight":"normal"},"layer":[
{"data":{"name":"km"},"transform":[{"filter":"datum.p=='K'"}],"mark":{"type":"line","interpolate":"step-after","strokeWidth":1.6},"encoding":{"x":{"field":"t","type":"quantitative","scale":{"domain":[-0.5,10.5],"nice":false,"zero":false},"axis":{"values":[0,1,2,3,4,5,6,7,8,9,10],"format":"d","title":"Time(years)"}},"y":{"field":"s","type":"quantitative","scale":{"domain":[-0.05,1.05],"nice":false},"axis":{"values":[0,0.25,0.5,0.75,1],"format":".2f","title":"Survival probability"}},"color":{"field":"g","type":"nominal","scale":{"domain":["high","low"],"range":["#E8221E","#2B4DA0"]},"legend":{"title":"Risk","symbolType":"M-1,0L1,0M0,-0.6L0,0.6","symbolSize":180}}}},
{"data":{"name":"km"},"transform":[{"filter":"datum.p=='K' && datum.c==1"}],"mark":{"type":"point","shape":"M-1,0L1,0M0,-1L0,1","size":36,"strokeWidth":1,"filled":false,"opacity":1},"encoding":{"x":{"field":"t","type":"quantitative","scale":{"domain":[-0.5,10.5],"nice":false,"zero":false},"axis":{"values":[0,1,2,3,4,5,6,7,8,9,10],"format":"d","title":"Time(years)"}},"y":{"field":"s","type":"quantitative","scale":{"domain":[-0.05,1.05],"nice":false},"axis":{"values":[0,0.25,0.5,0.75,1],"format":".2f","title":"Survival probability"}},"color":{"field":"g","type":"nominal","scale":{"domain":["high","low"],"range":["#E8221E","#2B4DA0"]},"legend":{"title":"Risk","symbolType":"M-1,0L1,0M0,-0.6L0,0.6","symbolSize":180}}}},
{"data":{"name":"pv"},"transform":[{"filter":"datum.p=='K'"}],"mark":{"type":"text","align":"left","baseline":"middle","fontSize":14,"color":"black"},"encoding":{"x":{"datum":0.2,"type":"quantitative","scale":{"domain":[-0.5,10.5],"nice":false,"zero":false},"axis":{"values":[0,1,2,3,4,5,6,7,8,9,10],"format":"d","title":"Time(years)"}},"y":{"datum":0.2,"type":"quantitative","scale":{"domain":[-0.05,1.05],"nice":false},"axis":{"values":[0,0.25,0.5,0.75,1],"format":".2f","title":"Survival probability"}},"text":{"field":"label"}}}]},
{"width":261,"height":20,"data":{"name":"risk"},"transform":[{"filter":"datum.p=='K'"}],"mark":{"type":"text","fontSize":10},"encoding":{"x":{"field":"t","type":"quantitative","scale":{"domain":[-0.5,10.5],"nice":false,"zero":false},"axis":{"values":[0,1,2,3,4,5,6,7,8,9,10],"format":"d","title":"Time(years)"}},"y":{"field":"g","type":"nominal","scale":{"domain":["high","low"]},"axis":{"title":"Risk","labelColor":{"condition":{"test":"datum.value=='high'","value":"#E8221E"},"value":"#2B4DA0"}}},"text":{"field":"n","type":"quantitative"},"color":{"condition":{"test":"datum.g=='high'","value":"#E8221E"},"value":"#2B4DA0"}}}]},
{"title":{"text":"L","font":"Liberation Serif","fontSize":20,"fontWeight":"bold","anchor":"start","frame":"bounds","offset":-18},"spacing":7,"resolve":{"scale":{"color":"independent"},"legend":{"color":"independent"}},"vconcat":[
{"width":261,"height":117,"title":{"text":"Patients with T3−4","anchor":"start","frame":"group","fontSize":12,"fontWeight":"normal"},"layer":[
{"data":{"name":"km"},"transform":[{"filter":"datum.p=='L'"}],"mark":{"type":"line","interpolate":"step-after","strokeWidth":1.6},"encoding":{"x":{"field":"t","type":"quantitative","scale":{"domain":[-0.5,10.5],"nice":false,"zero":false},"axis":{"values":[0,1,2,3,4,5,6,7,8,9,10],"format":"d","title":"Time(years)"}},"y":{"field":"s","type":"quantitative","scale":{"domain":[-0.05,1.05],"nice":false},"axis":{"values":[0,0.25,0.5,0.75,1],"format":".2f","title":"Survival probability"}},"color":{"field":"g","type":"nominal","scale":{"domain":["high","low"],"range":["#E8221E","#2B4DA0"]},"legend":{"title":"Risk","symbolType":"M-1,0L1,0M0,-0.6L0,0.6","symbolSize":180}}}},
{"data":{"name":"km"},"transform":[{"filter":"datum.p=='L' && datum.c==1"}],"mark":{"type":"point","shape":"M-1,0L1,0M0,-1L0,1","size":36,"strokeWidth":1,"filled":false,"opacity":1},"encoding":{"x":{"field":"t","type":"quantitative","scale":{"domain":[-0.5,10.5],"nice":false,"zero":false},"axis":{"values":[0,1,2,3,4,5,6,7,8,9,10],"format":"d","title":"Time(years)"}},"y":{"field":"s","type":"quantitative","scale":{"domain":[-0.05,1.05],"nice":false},"axis":{"values":[0,0.25,0.5,0.75,1],"format":".2f","title":"Survival probability"}},"color":{"field":"g","type":"nominal","scale":{"domain":["high","low"],"range":["#E8221E","#2B4DA0"]},"legend":{"title":"Risk","symbolType":"M-1,0L1,0M0,-0.6L0,0.6","symbolSize":180}}}},
{"data":{"name":"pv"},"transform":[{"filter":"datum.p=='L'"}],"mark":{"type":"text","align":"left","baseline":"middle","fontSize":14,"color":"black"},"encoding":{"x":{"datum":0.2,"type":"quantitative","scale":{"domain":[-0.5,10.5],"nice":false,"zero":false},"axis":{"values":[0,1,2,3,4,5,6,7,8,9,10],"format":"d","title":"Time(years)"}},"y":{"datum":0.2,"type":"quantitative","scale":{"domain":[-0.05,1.05],"nice":false},"axis":{"values":[0,0.25,0.5,0.75,1],"format":".2f","title":"Survival probability"}},"text":{"field":"label"}}}]},
{"width":261,"height":20,"data":{"name":"risk"},"transform":[{"filter":"datum.p=='L'"}],"mark":{"type":"text","fontSize":10},"encoding":{"x":{"field":"t","type":"quantitative","scale":{"domain":[-0.5,10.5],"nice":false,"zero":false},"axis":{"values":[0,1,2,3,4,5,6,7,8,9,10],"format":"d","title":"Time(years)"}},"y":{"field":"g","type":"nominal","scale":{"domain":["high","low"]},"axis":{"title":"Risk","labelColor":{"condition":{"test":"datum.value=='high'","value":"#E8221E"},"value":"#2B4DA0"}}},"text":{"field":"n","type":"quantitative"},"color":{"condition":{"test":"datum.g=='high'","value":"#E8221E"},"value":"#2B4DA0"}}}]}
]}
]
}
